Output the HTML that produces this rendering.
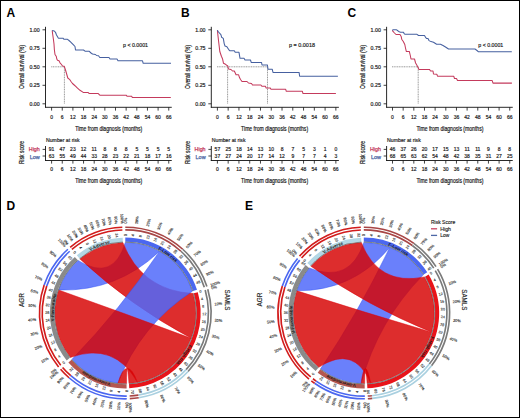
<!DOCTYPE html>
<html><head><meta charset="utf-8"><style>
html,body{margin:0;padding:0;background:#fff;}
body{width:520px;height:418px;overflow:hidden;position:relative;}
svg{position:absolute;left:0;top:0;font-family:"Liberation Sans", sans-serif;}
.frame{position:absolute;left:0;top:0;width:518px;height:416px;border:1px solid #000;}
</style></head><body>
<svg width="520" height="418" viewBox="0 0 520 418">
<text x="6.6" y="16.8" font-size="12" text-anchor="start" fill="#000" font-weight="bold" >A</text>
<line x1="45.5" y1="26.8" x2="45.5" y2="107.6" stroke="#111" stroke-width="0.9"/>
<line x1="45.05" y1="107.3" x2="171.75" y2="107.3" stroke="#111" stroke-width="0.9"/>
<line x1="42.5" y1="29.8" x2="45.5" y2="29.8" stroke="#111" stroke-width="0.8"/>
<text x="39.7" y="31.6" font-size="5" text-anchor="end" fill="#1a1a1a" font-weight="normal" stroke="#1a1a1a" stroke-width="0.18" textLength="10.2" lengthAdjust="spacingAndGlyphs" >1.00</text>
<line x1="42.5" y1="48.3" x2="45.5" y2="48.3" stroke="#111" stroke-width="0.8"/>
<text x="39.7" y="50.1" font-size="5" text-anchor="end" fill="#1a1a1a" font-weight="normal" stroke="#1a1a1a" stroke-width="0.18" textLength="10.2" lengthAdjust="spacingAndGlyphs" >0.75</text>
<line x1="42.5" y1="66.8" x2="45.5" y2="66.8" stroke="#111" stroke-width="0.8"/>
<text x="39.7" y="68.6" font-size="5" text-anchor="end" fill="#1a1a1a" font-weight="normal" stroke="#1a1a1a" stroke-width="0.18" textLength="10.2" lengthAdjust="spacingAndGlyphs" >0.50</text>
<line x1="42.5" y1="85.3" x2="45.5" y2="85.3" stroke="#111" stroke-width="0.8"/>
<text x="39.7" y="87.1" font-size="5" text-anchor="end" fill="#1a1a1a" font-weight="normal" stroke="#1a1a1a" stroke-width="0.18" textLength="10.2" lengthAdjust="spacingAndGlyphs" >0.25</text>
<line x1="42.5" y1="103.8" x2="45.5" y2="103.8" stroke="#111" stroke-width="0.8"/>
<text x="39.7" y="105.6" font-size="5" text-anchor="end" fill="#1a1a1a" font-weight="normal" stroke="#1a1a1a" stroke-width="0.18" textLength="10.2" lengthAdjust="spacingAndGlyphs" >0.00</text>
<line x1="51.6" y1="107.3" x2="51.6" y2="110.6" stroke="#111" stroke-width="0.8"/>
<text x="51.6" y="118.9" font-size="5" text-anchor="middle" fill="#1a1a1a" font-weight="normal" stroke="#1a1a1a" stroke-width="0.18" >0</text>
<line x1="51.6" y1="160.5" x2="51.6" y2="163.6" stroke="#111" stroke-width="0.8"/>
<text x="51.6" y="171.3" font-size="5" text-anchor="middle" fill="#1a1a1a" font-weight="normal" stroke="#1a1a1a" stroke-width="0.18" >0</text>
<text x="51.6" y="151.2" font-size="5" text-anchor="middle" fill="#1a1a1a" font-weight="normal" stroke="#1a1a1a" stroke-width="0.18" >91</text>
<text x="51.6" y="157.8" font-size="5" text-anchor="middle" fill="#1a1a1a" font-weight="normal" stroke="#1a1a1a" stroke-width="0.18" >63</text>
<line x1="62.25" y1="107.3" x2="62.25" y2="110.6" stroke="#111" stroke-width="0.8"/>
<text x="62.25" y="118.9" font-size="5" text-anchor="middle" fill="#1a1a1a" font-weight="normal" stroke="#1a1a1a" stroke-width="0.18" >6</text>
<line x1="62.25" y1="160.5" x2="62.25" y2="163.6" stroke="#111" stroke-width="0.8"/>
<text x="62.25" y="171.3" font-size="5" text-anchor="middle" fill="#1a1a1a" font-weight="normal" stroke="#1a1a1a" stroke-width="0.18" >6</text>
<text x="62.25" y="151.2" font-size="5" text-anchor="middle" fill="#1a1a1a" font-weight="normal" stroke="#1a1a1a" stroke-width="0.18" >47</text>
<text x="62.25" y="157.8" font-size="5" text-anchor="middle" fill="#1a1a1a" font-weight="normal" stroke="#1a1a1a" stroke-width="0.18" >55</text>
<line x1="72.9" y1="107.3" x2="72.9" y2="110.6" stroke="#111" stroke-width="0.8"/>
<text x="72.9" y="118.9" font-size="5" text-anchor="middle" fill="#1a1a1a" font-weight="normal" stroke="#1a1a1a" stroke-width="0.18" >12</text>
<line x1="72.9" y1="160.5" x2="72.9" y2="163.6" stroke="#111" stroke-width="0.8"/>
<text x="72.9" y="171.3" font-size="5" text-anchor="middle" fill="#1a1a1a" font-weight="normal" stroke="#1a1a1a" stroke-width="0.18" >12</text>
<text x="72.9" y="151.2" font-size="5" text-anchor="middle" fill="#1a1a1a" font-weight="normal" stroke="#1a1a1a" stroke-width="0.18" >23</text>
<text x="72.9" y="157.8" font-size="5" text-anchor="middle" fill="#1a1a1a" font-weight="normal" stroke="#1a1a1a" stroke-width="0.18" >49</text>
<line x1="83.55" y1="107.3" x2="83.55" y2="110.6" stroke="#111" stroke-width="0.8"/>
<text x="83.55" y="118.9" font-size="5" text-anchor="middle" fill="#1a1a1a" font-weight="normal" stroke="#1a1a1a" stroke-width="0.18" >18</text>
<line x1="83.55" y1="160.5" x2="83.55" y2="163.6" stroke="#111" stroke-width="0.8"/>
<text x="83.55" y="171.3" font-size="5" text-anchor="middle" fill="#1a1a1a" font-weight="normal" stroke="#1a1a1a" stroke-width="0.18" >18</text>
<text x="83.55" y="151.2" font-size="5" text-anchor="middle" fill="#1a1a1a" font-weight="normal" stroke="#1a1a1a" stroke-width="0.18" >12</text>
<text x="83.55" y="157.8" font-size="5" text-anchor="middle" fill="#1a1a1a" font-weight="normal" stroke="#1a1a1a" stroke-width="0.18" >44</text>
<line x1="94.2" y1="107.3" x2="94.2" y2="110.6" stroke="#111" stroke-width="0.8"/>
<text x="94.2" y="118.9" font-size="5" text-anchor="middle" fill="#1a1a1a" font-weight="normal" stroke="#1a1a1a" stroke-width="0.18" >24</text>
<line x1="94.2" y1="160.5" x2="94.2" y2="163.6" stroke="#111" stroke-width="0.8"/>
<text x="94.2" y="171.3" font-size="5" text-anchor="middle" fill="#1a1a1a" font-weight="normal" stroke="#1a1a1a" stroke-width="0.18" >24</text>
<text x="94.2" y="151.2" font-size="5" text-anchor="middle" fill="#1a1a1a" font-weight="normal" stroke="#1a1a1a" stroke-width="0.18" >11</text>
<text x="94.2" y="157.8" font-size="5" text-anchor="middle" fill="#1a1a1a" font-weight="normal" stroke="#1a1a1a" stroke-width="0.18" >33</text>
<line x1="104.85" y1="107.3" x2="104.85" y2="110.6" stroke="#111" stroke-width="0.8"/>
<text x="104.85" y="118.9" font-size="5" text-anchor="middle" fill="#1a1a1a" font-weight="normal" stroke="#1a1a1a" stroke-width="0.18" >30</text>
<line x1="104.85" y1="160.5" x2="104.85" y2="163.6" stroke="#111" stroke-width="0.8"/>
<text x="104.85" y="171.3" font-size="5" text-anchor="middle" fill="#1a1a1a" font-weight="normal" stroke="#1a1a1a" stroke-width="0.18" >30</text>
<text x="104.85" y="151.2" font-size="5" text-anchor="middle" fill="#1a1a1a" font-weight="normal" stroke="#1a1a1a" stroke-width="0.18" >8</text>
<text x="104.85" y="157.8" font-size="5" text-anchor="middle" fill="#1a1a1a" font-weight="normal" stroke="#1a1a1a" stroke-width="0.18" >28</text>
<line x1="115.5" y1="107.3" x2="115.5" y2="110.6" stroke="#111" stroke-width="0.8"/>
<text x="115.5" y="118.9" font-size="5" text-anchor="middle" fill="#1a1a1a" font-weight="normal" stroke="#1a1a1a" stroke-width="0.18" >36</text>
<line x1="115.5" y1="160.5" x2="115.5" y2="163.6" stroke="#111" stroke-width="0.8"/>
<text x="115.5" y="171.3" font-size="5" text-anchor="middle" fill="#1a1a1a" font-weight="normal" stroke="#1a1a1a" stroke-width="0.18" >36</text>
<text x="115.5" y="151.2" font-size="5" text-anchor="middle" fill="#1a1a1a" font-weight="normal" stroke="#1a1a1a" stroke-width="0.18" >8</text>
<text x="115.5" y="157.8" font-size="5" text-anchor="middle" fill="#1a1a1a" font-weight="normal" stroke="#1a1a1a" stroke-width="0.18" >23</text>
<line x1="126.15" y1="107.3" x2="126.15" y2="110.6" stroke="#111" stroke-width="0.8"/>
<text x="126.15" y="118.9" font-size="5" text-anchor="middle" fill="#1a1a1a" font-weight="normal" stroke="#1a1a1a" stroke-width="0.18" >42</text>
<line x1="126.15" y1="160.5" x2="126.15" y2="163.6" stroke="#111" stroke-width="0.8"/>
<text x="126.15" y="171.3" font-size="5" text-anchor="middle" fill="#1a1a1a" font-weight="normal" stroke="#1a1a1a" stroke-width="0.18" >42</text>
<text x="126.15" y="151.2" font-size="5" text-anchor="middle" fill="#1a1a1a" font-weight="normal" stroke="#1a1a1a" stroke-width="0.18" >8</text>
<text x="126.15" y="157.8" font-size="5" text-anchor="middle" fill="#1a1a1a" font-weight="normal" stroke="#1a1a1a" stroke-width="0.18" >22</text>
<line x1="136.8" y1="107.3" x2="136.8" y2="110.6" stroke="#111" stroke-width="0.8"/>
<text x="136.8" y="118.9" font-size="5" text-anchor="middle" fill="#1a1a1a" font-weight="normal" stroke="#1a1a1a" stroke-width="0.18" >48</text>
<line x1="136.8" y1="160.5" x2="136.8" y2="163.6" stroke="#111" stroke-width="0.8"/>
<text x="136.8" y="171.3" font-size="5" text-anchor="middle" fill="#1a1a1a" font-weight="normal" stroke="#1a1a1a" stroke-width="0.18" >48</text>
<text x="136.8" y="151.2" font-size="5" text-anchor="middle" fill="#1a1a1a" font-weight="normal" stroke="#1a1a1a" stroke-width="0.18" >5</text>
<text x="136.8" y="157.8" font-size="5" text-anchor="middle" fill="#1a1a1a" font-weight="normal" stroke="#1a1a1a" stroke-width="0.18" >21</text>
<line x1="147.45" y1="107.3" x2="147.45" y2="110.6" stroke="#111" stroke-width="0.8"/>
<text x="147.45" y="118.9" font-size="5" text-anchor="middle" fill="#1a1a1a" font-weight="normal" stroke="#1a1a1a" stroke-width="0.18" >54</text>
<line x1="147.45" y1="160.5" x2="147.45" y2="163.6" stroke="#111" stroke-width="0.8"/>
<text x="147.45" y="171.3" font-size="5" text-anchor="middle" fill="#1a1a1a" font-weight="normal" stroke="#1a1a1a" stroke-width="0.18" >54</text>
<text x="147.45" y="151.2" font-size="5" text-anchor="middle" fill="#1a1a1a" font-weight="normal" stroke="#1a1a1a" stroke-width="0.18" >5</text>
<text x="147.45" y="157.8" font-size="5" text-anchor="middle" fill="#1a1a1a" font-weight="normal" stroke="#1a1a1a" stroke-width="0.18" >18</text>
<line x1="158.1" y1="107.3" x2="158.1" y2="110.6" stroke="#111" stroke-width="0.8"/>
<text x="158.1" y="118.9" font-size="5" text-anchor="middle" fill="#1a1a1a" font-weight="normal" stroke="#1a1a1a" stroke-width="0.18" >60</text>
<line x1="158.1" y1="160.5" x2="158.1" y2="163.6" stroke="#111" stroke-width="0.8"/>
<text x="158.1" y="171.3" font-size="5" text-anchor="middle" fill="#1a1a1a" font-weight="normal" stroke="#1a1a1a" stroke-width="0.18" >60</text>
<text x="158.1" y="151.2" font-size="5" text-anchor="middle" fill="#1a1a1a" font-weight="normal" stroke="#1a1a1a" stroke-width="0.18" >5</text>
<text x="158.1" y="157.8" font-size="5" text-anchor="middle" fill="#1a1a1a" font-weight="normal" stroke="#1a1a1a" stroke-width="0.18" >17</text>
<line x1="168.75" y1="107.3" x2="168.75" y2="110.6" stroke="#111" stroke-width="0.8"/>
<text x="168.75" y="118.9" font-size="5" text-anchor="middle" fill="#1a1a1a" font-weight="normal" stroke="#1a1a1a" stroke-width="0.18" >66</text>
<line x1="168.75" y1="160.5" x2="168.75" y2="163.6" stroke="#111" stroke-width="0.8"/>
<text x="168.75" y="171.3" font-size="5" text-anchor="middle" fill="#1a1a1a" font-weight="normal" stroke="#1a1a1a" stroke-width="0.18" >66</text>
<text x="168.75" y="151.2" font-size="5" text-anchor="middle" fill="#1a1a1a" font-weight="normal" stroke="#1a1a1a" stroke-width="0.18" >5</text>
<text x="168.75" y="157.8" font-size="5" text-anchor="middle" fill="#1a1a1a" font-weight="normal" stroke="#1a1a1a" stroke-width="0.18" >16</text>
<text x="75.3" y="130.8" font-size="7.4" text-anchor="start" fill="#111" font-weight="normal" stroke="#111" stroke-width="0.2" textLength="67" lengthAdjust="spacingAndGlyphs" >Time from diagnosis (months)</text>
<text x="75.3" y="182.7" font-size="7.4" text-anchor="start" fill="#111" font-weight="normal" stroke="#111" stroke-width="0.2" textLength="67" lengthAdjust="spacingAndGlyphs" >Time from diagnosis (months)</text>
<text transform="translate(24,67) rotate(-90)" x="0" y="0" font-size="7.4" stroke="#111" stroke-width="0.2" text-anchor="middle" fill="#111" textLength="44" lengthAdjust="spacingAndGlyphs">Overall survival (%)</text>
<text x="123" y="47.2" font-size="5.4" text-anchor="start" fill="#222" font-weight="normal" stroke="#222" stroke-width="0.18" textLength="25" lengthAdjust="spacingAndGlyphs" >p &lt; 0.0001</text>
<line x1="51.2" y1="66.8" x2="64.4" y2="66.8" stroke="#999" stroke-width="1" stroke-dasharray="1.1,0.6"/>
<line x1="64.4" y1="66.8" x2="64.4" y2="103.6" stroke="#999" stroke-width="1" stroke-dasharray="1.1,0.6"/>
<polyline points="52.2,30.4 52.5,33 53.5,40 54,44 54.4,50 55,54.5 56.2,56.2 56.8,59 57.5,60.3 59,60.8 60,62.8 61.5,64.5 62.5,66 64.3,66.3 65.5,70 67.8,78 69.5,79.3 71,81.5 72.5,83.5 74.2,85 76,86.6 77.5,88.2 80,90.3 83.2,92.4 88,92.4 89,93.4 98,93.4 99.8,95.2 126.4,95.2 127,96.3 131.7,96.3 132.2,97.4 170.8,97.4" fill="none" stroke="#c43a5c" stroke-width="1.05" stroke-linejoin="round" />
<polyline points="52.2,30.4 54.3,31 55.5,32.3 56.5,35 58,37.6 58.5,38.2 63,38.2 64,39.3 67.5,39.3 69,40.5 71,42.3 73.5,44.8 75,46.5 75.5,50 83.5,50 85,51.2 89,51.2 91,53 92.5,54 95.5,54.5 96.5,55.5 98.5,55.8 99.8,57.5 109,57.5 110,59 117,59 118,60.8 142.5,60.8 143.2,63.3 171,63.3" fill="none" stroke="#4660a0" stroke-width="1.05" stroke-linejoin="round" />
<text x="46" y="142.1" font-size="5.4" text-anchor="start" fill="#222" font-weight="normal" stroke="#222" stroke-width="0.18" textLength="33.7" lengthAdjust="spacingAndGlyphs" >Number at risk</text>
<text transform="translate(23.9,152.5) rotate(-90)" x="0" y="0" font-size="7.4" stroke="#111" stroke-width="0.2" text-anchor="middle" fill="#111" textLength="23" lengthAdjust="spacingAndGlyphs">Risk score</text>
<text x="39.8" y="151.3" font-size="5.6" text-anchor="end" fill="#c43a5c" font-weight="normal" stroke="#c43a5c" stroke-width="0.25" textLength="11" lengthAdjust="spacingAndGlyphs" >High</text>
<text x="39.8" y="158.6" font-size="5.6" text-anchor="end" fill="#4660a0" font-weight="normal" stroke="#4660a0" stroke-width="0.25" textLength="10" lengthAdjust="spacingAndGlyphs" >Low</text>
<line x1="45.5" y1="146" x2="45.5" y2="160.9" stroke="#111" stroke-width="0.9"/>
<line x1="45.05" y1="160.5" x2="171.75" y2="160.5" stroke="#111" stroke-width="0.9"/>
<line x1="42.6" y1="149.4" x2="45.5" y2="149.4" stroke="#111" stroke-width="0.8"/>
<line x1="42.6" y1="156" x2="45.5" y2="156" stroke="#111" stroke-width="0.8"/>
<text x="180.9" y="16.8" font-size="12" text-anchor="start" fill="#000" font-weight="bold" >B</text>
<line x1="211.3" y1="26.8" x2="211.3" y2="107.6" stroke="#111" stroke-width="0.9"/>
<line x1="210.85" y1="107.3" x2="338.87" y2="107.3" stroke="#111" stroke-width="0.9"/>
<line x1="208.3" y1="29.8" x2="211.3" y2="29.8" stroke="#111" stroke-width="0.8"/>
<text x="205.5" y="31.6" font-size="5" text-anchor="end" fill="#1a1a1a" font-weight="normal" stroke="#1a1a1a" stroke-width="0.18" textLength="10.2" lengthAdjust="spacingAndGlyphs" >1.00</text>
<line x1="208.3" y1="48.3" x2="211.3" y2="48.3" stroke="#111" stroke-width="0.8"/>
<text x="205.5" y="50.1" font-size="5" text-anchor="end" fill="#1a1a1a" font-weight="normal" stroke="#1a1a1a" stroke-width="0.18" textLength="10.2" lengthAdjust="spacingAndGlyphs" >0.75</text>
<line x1="208.3" y1="66.8" x2="211.3" y2="66.8" stroke="#111" stroke-width="0.8"/>
<text x="205.5" y="68.6" font-size="5" text-anchor="end" fill="#1a1a1a" font-weight="normal" stroke="#1a1a1a" stroke-width="0.18" textLength="10.2" lengthAdjust="spacingAndGlyphs" >0.50</text>
<line x1="208.3" y1="85.3" x2="211.3" y2="85.3" stroke="#111" stroke-width="0.8"/>
<text x="205.5" y="87.1" font-size="5" text-anchor="end" fill="#1a1a1a" font-weight="normal" stroke="#1a1a1a" stroke-width="0.18" textLength="10.2" lengthAdjust="spacingAndGlyphs" >0.25</text>
<line x1="208.3" y1="103.8" x2="211.3" y2="103.8" stroke="#111" stroke-width="0.8"/>
<text x="205.5" y="105.6" font-size="5" text-anchor="end" fill="#1a1a1a" font-weight="normal" stroke="#1a1a1a" stroke-width="0.18" textLength="10.2" lengthAdjust="spacingAndGlyphs" >0.00</text>
<line x1="217.4" y1="107.3" x2="217.4" y2="110.6" stroke="#111" stroke-width="0.8"/>
<text x="217.4" y="118.9" font-size="5" text-anchor="middle" fill="#1a1a1a" font-weight="normal" stroke="#1a1a1a" stroke-width="0.18" >0</text>
<line x1="217.4" y1="160.5" x2="217.4" y2="163.6" stroke="#111" stroke-width="0.8"/>
<text x="217.4" y="171.3" font-size="5" text-anchor="middle" fill="#1a1a1a" font-weight="normal" stroke="#1a1a1a" stroke-width="0.18" >0</text>
<text x="217.4" y="151.2" font-size="5" text-anchor="middle" fill="#1a1a1a" font-weight="normal" stroke="#1a1a1a" stroke-width="0.18" >57</text>
<text x="217.4" y="157.8" font-size="5" text-anchor="middle" fill="#1a1a1a" font-weight="normal" stroke="#1a1a1a" stroke-width="0.18" >37</text>
<line x1="228.17" y1="107.3" x2="228.17" y2="110.6" stroke="#111" stroke-width="0.8"/>
<text x="228.17" y="118.9" font-size="5" text-anchor="middle" fill="#1a1a1a" font-weight="normal" stroke="#1a1a1a" stroke-width="0.18" >6</text>
<line x1="228.17" y1="160.5" x2="228.17" y2="163.6" stroke="#111" stroke-width="0.8"/>
<text x="228.17" y="171.3" font-size="5" text-anchor="middle" fill="#1a1a1a" font-weight="normal" stroke="#1a1a1a" stroke-width="0.18" >6</text>
<text x="228.17" y="151.2" font-size="5" text-anchor="middle" fill="#1a1a1a" font-weight="normal" stroke="#1a1a1a" stroke-width="0.18" >25</text>
<text x="228.17" y="157.8" font-size="5" text-anchor="middle" fill="#1a1a1a" font-weight="normal" stroke="#1a1a1a" stroke-width="0.18" >27</text>
<line x1="238.94" y1="107.3" x2="238.94" y2="110.6" stroke="#111" stroke-width="0.8"/>
<text x="238.94" y="118.9" font-size="5" text-anchor="middle" fill="#1a1a1a" font-weight="normal" stroke="#1a1a1a" stroke-width="0.18" >12</text>
<line x1="238.94" y1="160.5" x2="238.94" y2="163.6" stroke="#111" stroke-width="0.8"/>
<text x="238.94" y="171.3" font-size="5" text-anchor="middle" fill="#1a1a1a" font-weight="normal" stroke="#1a1a1a" stroke-width="0.18" >12</text>
<text x="238.94" y="151.2" font-size="5" text-anchor="middle" fill="#1a1a1a" font-weight="normal" stroke="#1a1a1a" stroke-width="0.18" >18</text>
<text x="238.94" y="157.8" font-size="5" text-anchor="middle" fill="#1a1a1a" font-weight="normal" stroke="#1a1a1a" stroke-width="0.18" >24</text>
<line x1="249.71" y1="107.3" x2="249.71" y2="110.6" stroke="#111" stroke-width="0.8"/>
<text x="249.71" y="118.9" font-size="5" text-anchor="middle" fill="#1a1a1a" font-weight="normal" stroke="#1a1a1a" stroke-width="0.18" >18</text>
<line x1="249.71" y1="160.5" x2="249.71" y2="163.6" stroke="#111" stroke-width="0.8"/>
<text x="249.71" y="171.3" font-size="5" text-anchor="middle" fill="#1a1a1a" font-weight="normal" stroke="#1a1a1a" stroke-width="0.18" >18</text>
<text x="249.71" y="151.2" font-size="5" text-anchor="middle" fill="#1a1a1a" font-weight="normal" stroke="#1a1a1a" stroke-width="0.18" >14</text>
<text x="249.71" y="157.8" font-size="5" text-anchor="middle" fill="#1a1a1a" font-weight="normal" stroke="#1a1a1a" stroke-width="0.18" >20</text>
<line x1="260.48" y1="107.3" x2="260.48" y2="110.6" stroke="#111" stroke-width="0.8"/>
<text x="260.48" y="118.9" font-size="5" text-anchor="middle" fill="#1a1a1a" font-weight="normal" stroke="#1a1a1a" stroke-width="0.18" >24</text>
<line x1="260.48" y1="160.5" x2="260.48" y2="163.6" stroke="#111" stroke-width="0.8"/>
<text x="260.48" y="171.3" font-size="5" text-anchor="middle" fill="#1a1a1a" font-weight="normal" stroke="#1a1a1a" stroke-width="0.18" >24</text>
<text x="260.48" y="151.2" font-size="5" text-anchor="middle" fill="#1a1a1a" font-weight="normal" stroke="#1a1a1a" stroke-width="0.18" >13</text>
<text x="260.48" y="157.8" font-size="5" text-anchor="middle" fill="#1a1a1a" font-weight="normal" stroke="#1a1a1a" stroke-width="0.18" >17</text>
<line x1="271.25" y1="107.3" x2="271.25" y2="110.6" stroke="#111" stroke-width="0.8"/>
<text x="271.25" y="118.9" font-size="5" text-anchor="middle" fill="#1a1a1a" font-weight="normal" stroke="#1a1a1a" stroke-width="0.18" >30</text>
<line x1="271.25" y1="160.5" x2="271.25" y2="163.6" stroke="#111" stroke-width="0.8"/>
<text x="271.25" y="171.3" font-size="5" text-anchor="middle" fill="#1a1a1a" font-weight="normal" stroke="#1a1a1a" stroke-width="0.18" >30</text>
<text x="271.25" y="151.2" font-size="5" text-anchor="middle" fill="#1a1a1a" font-weight="normal" stroke="#1a1a1a" stroke-width="0.18" >10</text>
<text x="271.25" y="157.8" font-size="5" text-anchor="middle" fill="#1a1a1a" font-weight="normal" stroke="#1a1a1a" stroke-width="0.18" >14</text>
<line x1="282.02" y1="107.3" x2="282.02" y2="110.6" stroke="#111" stroke-width="0.8"/>
<text x="282.02" y="118.9" font-size="5" text-anchor="middle" fill="#1a1a1a" font-weight="normal" stroke="#1a1a1a" stroke-width="0.18" >36</text>
<line x1="282.02" y1="160.5" x2="282.02" y2="163.6" stroke="#111" stroke-width="0.8"/>
<text x="282.02" y="171.3" font-size="5" text-anchor="middle" fill="#1a1a1a" font-weight="normal" stroke="#1a1a1a" stroke-width="0.18" >36</text>
<text x="282.02" y="151.2" font-size="5" text-anchor="middle" fill="#1a1a1a" font-weight="normal" stroke="#1a1a1a" stroke-width="0.18" >8</text>
<text x="282.02" y="157.8" font-size="5" text-anchor="middle" fill="#1a1a1a" font-weight="normal" stroke="#1a1a1a" stroke-width="0.18" >12</text>
<line x1="292.79" y1="107.3" x2="292.79" y2="110.6" stroke="#111" stroke-width="0.8"/>
<text x="292.79" y="118.9" font-size="5" text-anchor="middle" fill="#1a1a1a" font-weight="normal" stroke="#1a1a1a" stroke-width="0.18" >42</text>
<line x1="292.79" y1="160.5" x2="292.79" y2="163.6" stroke="#111" stroke-width="0.8"/>
<text x="292.79" y="171.3" font-size="5" text-anchor="middle" fill="#1a1a1a" font-weight="normal" stroke="#1a1a1a" stroke-width="0.18" >42</text>
<text x="292.79" y="151.2" font-size="5" text-anchor="middle" fill="#1a1a1a" font-weight="normal" stroke="#1a1a1a" stroke-width="0.18" >7</text>
<text x="292.79" y="157.8" font-size="5" text-anchor="middle" fill="#1a1a1a" font-weight="normal" stroke="#1a1a1a" stroke-width="0.18" >9</text>
<line x1="303.56" y1="107.3" x2="303.56" y2="110.6" stroke="#111" stroke-width="0.8"/>
<text x="303.56" y="118.9" font-size="5" text-anchor="middle" fill="#1a1a1a" font-weight="normal" stroke="#1a1a1a" stroke-width="0.18" >48</text>
<line x1="303.56" y1="160.5" x2="303.56" y2="163.6" stroke="#111" stroke-width="0.8"/>
<text x="303.56" y="171.3" font-size="5" text-anchor="middle" fill="#1a1a1a" font-weight="normal" stroke="#1a1a1a" stroke-width="0.18" >48</text>
<text x="303.56" y="151.2" font-size="5" text-anchor="middle" fill="#1a1a1a" font-weight="normal" stroke="#1a1a1a" stroke-width="0.18" >5</text>
<text x="303.56" y="157.8" font-size="5" text-anchor="middle" fill="#1a1a1a" font-weight="normal" stroke="#1a1a1a" stroke-width="0.18" >7</text>
<line x1="314.33" y1="107.3" x2="314.33" y2="110.6" stroke="#111" stroke-width="0.8"/>
<text x="314.33" y="118.9" font-size="5" text-anchor="middle" fill="#1a1a1a" font-weight="normal" stroke="#1a1a1a" stroke-width="0.18" >54</text>
<line x1="314.33" y1="160.5" x2="314.33" y2="163.6" stroke="#111" stroke-width="0.8"/>
<text x="314.33" y="171.3" font-size="5" text-anchor="middle" fill="#1a1a1a" font-weight="normal" stroke="#1a1a1a" stroke-width="0.18" >54</text>
<text x="314.33" y="151.2" font-size="5" text-anchor="middle" fill="#1a1a1a" font-weight="normal" stroke="#1a1a1a" stroke-width="0.18" >3</text>
<text x="314.33" y="157.8" font-size="5" text-anchor="middle" fill="#1a1a1a" font-weight="normal" stroke="#1a1a1a" stroke-width="0.18" >7</text>
<line x1="325.1" y1="107.3" x2="325.1" y2="110.6" stroke="#111" stroke-width="0.8"/>
<text x="325.1" y="118.9" font-size="5" text-anchor="middle" fill="#1a1a1a" font-weight="normal" stroke="#1a1a1a" stroke-width="0.18" >60</text>
<line x1="325.1" y1="160.5" x2="325.1" y2="163.6" stroke="#111" stroke-width="0.8"/>
<text x="325.1" y="171.3" font-size="5" text-anchor="middle" fill="#1a1a1a" font-weight="normal" stroke="#1a1a1a" stroke-width="0.18" >60</text>
<text x="325.1" y="151.2" font-size="5" text-anchor="middle" fill="#1a1a1a" font-weight="normal" stroke="#1a1a1a" stroke-width="0.18" >1</text>
<text x="325.1" y="157.8" font-size="5" text-anchor="middle" fill="#1a1a1a" font-weight="normal" stroke="#1a1a1a" stroke-width="0.18" >4</text>
<line x1="335.87" y1="107.3" x2="335.87" y2="110.6" stroke="#111" stroke-width="0.8"/>
<text x="335.87" y="118.9" font-size="5" text-anchor="middle" fill="#1a1a1a" font-weight="normal" stroke="#1a1a1a" stroke-width="0.18" >66</text>
<line x1="335.87" y1="160.5" x2="335.87" y2="163.6" stroke="#111" stroke-width="0.8"/>
<text x="335.87" y="171.3" font-size="5" text-anchor="middle" fill="#1a1a1a" font-weight="normal" stroke="#1a1a1a" stroke-width="0.18" >66</text>
<text x="335.87" y="151.2" font-size="5" text-anchor="middle" fill="#1a1a1a" font-weight="normal" stroke="#1a1a1a" stroke-width="0.18" >0</text>
<text x="335.87" y="157.8" font-size="5" text-anchor="middle" fill="#1a1a1a" font-weight="normal" stroke="#1a1a1a" stroke-width="0.18" >3</text>
<text x="241.1" y="130.8" font-size="7.4" text-anchor="start" fill="#111" font-weight="normal" stroke="#111" stroke-width="0.2" textLength="67" lengthAdjust="spacingAndGlyphs" >Time from diagnosis (months)</text>
<text x="241.1" y="182.7" font-size="7.4" text-anchor="start" fill="#111" font-weight="normal" stroke="#111" stroke-width="0.2" textLength="67" lengthAdjust="spacingAndGlyphs" >Time from diagnosis (months)</text>
<text transform="translate(189.8,67) rotate(-90)" x="0" y="0" font-size="7.4" stroke="#111" stroke-width="0.2" text-anchor="middle" fill="#111" textLength="44" lengthAdjust="spacingAndGlyphs">Overall survival (%)</text>
<text x="289" y="47.2" font-size="5.4" text-anchor="start" fill="#222" font-weight="normal" stroke="#222" stroke-width="0.18" textLength="26" lengthAdjust="spacingAndGlyphs" >p = 0.0018</text>
<line x1="217" y1="66.8" x2="267.5" y2="66.8" stroke="#999" stroke-width="1" stroke-dasharray="1.1,0.6"/>
<line x1="227.6" y1="66.8" x2="227.6" y2="103.6" stroke="#999" stroke-width="1" stroke-dasharray="1.1,0.6"/>
<line x1="267.5" y1="66.8" x2="267.5" y2="103.6" stroke="#999" stroke-width="1" stroke-dasharray="1.1,0.6"/>
<polyline points="217.4,30.3 218,36 218.8,43 219.8,51.5 221.5,56.5 222.5,58.7 223.5,63.3 225.5,64.3 227.8,66 228.5,69 231,69.5 232.5,71 234.3,71 235.5,73.5 236,74.8 238.6,74.8 239.5,77.6 240.5,79.5 242,81.5 247,81.5 248.5,83 251.5,83.5 252.5,85 260.9,85 262,86.3 265.5,86.3 266,87.9 270.1,87.9 271,89.3 285.7,89.3 286.3,91.3 302.4,91.3 302.9,93.4 335.9,93.4" fill="none" stroke="#c43a5c" stroke-width="1.05" stroke-linejoin="round" />
<polyline points="217.4,30.3 218.5,32 220.9,34.6 221.6,37.2 223.3,38.4 224.2,43.6 225,46 226.9,46.7 228.5,49.3 229.9,50.8 234.3,50.8 235.2,52.3 239,52.3 240,58.3 244,58.3 245,60 250.5,60 251.2,62.4 261.5,62.4 262,64.9 267.4,64.9 268,69.2 272.2,69.2 273,72.4 299.1,72.4 299.6,76.2 337.9,76.2" fill="none" stroke="#4660a0" stroke-width="1.05" stroke-linejoin="round" />
<text x="211.8" y="142.1" font-size="5.4" text-anchor="start" fill="#222" font-weight="normal" stroke="#222" stroke-width="0.18" textLength="33.7" lengthAdjust="spacingAndGlyphs" >Number at risk</text>
<text transform="translate(189.7,152.5) rotate(-90)" x="0" y="0" font-size="7.4" stroke="#111" stroke-width="0.2" text-anchor="middle" fill="#111" textLength="23" lengthAdjust="spacingAndGlyphs">Risk score</text>
<text x="205.6" y="151.3" font-size="5.6" text-anchor="end" fill="#c43a5c" font-weight="normal" stroke="#c43a5c" stroke-width="0.25" textLength="11" lengthAdjust="spacingAndGlyphs" >High</text>
<text x="205.6" y="158.6" font-size="5.6" text-anchor="end" fill="#4660a0" font-weight="normal" stroke="#4660a0" stroke-width="0.25" textLength="10" lengthAdjust="spacingAndGlyphs" >Low</text>
<line x1="211.3" y1="146" x2="211.3" y2="160.9" stroke="#111" stroke-width="0.9"/>
<line x1="210.85" y1="160.5" x2="338.87" y2="160.5" stroke="#111" stroke-width="0.9"/>
<line x1="208.4" y1="149.4" x2="211.3" y2="149.4" stroke="#111" stroke-width="0.8"/>
<line x1="208.4" y1="156" x2="211.3" y2="156" stroke="#111" stroke-width="0.8"/>
<text x="347.6" y="16.8" font-size="12" text-anchor="start" fill="#000" font-weight="bold" >C</text>
<line x1="386.6" y1="26.8" x2="386.6" y2="107.6" stroke="#111" stroke-width="0.9"/>
<line x1="386.15" y1="107.3" x2="512.76" y2="107.3" stroke="#111" stroke-width="0.9"/>
<line x1="383.6" y1="29.8" x2="386.6" y2="29.8" stroke="#111" stroke-width="0.8"/>
<text x="380.8" y="31.6" font-size="5" text-anchor="end" fill="#1a1a1a" font-weight="normal" stroke="#1a1a1a" stroke-width="0.18" textLength="10.2" lengthAdjust="spacingAndGlyphs" >1.00</text>
<line x1="383.6" y1="48.3" x2="386.6" y2="48.3" stroke="#111" stroke-width="0.8"/>
<text x="380.8" y="50.1" font-size="5" text-anchor="end" fill="#1a1a1a" font-weight="normal" stroke="#1a1a1a" stroke-width="0.18" textLength="10.2" lengthAdjust="spacingAndGlyphs" >0.75</text>
<line x1="383.6" y1="66.8" x2="386.6" y2="66.8" stroke="#111" stroke-width="0.8"/>
<text x="380.8" y="68.6" font-size="5" text-anchor="end" fill="#1a1a1a" font-weight="normal" stroke="#1a1a1a" stroke-width="0.18" textLength="10.2" lengthAdjust="spacingAndGlyphs" >0.50</text>
<line x1="383.6" y1="85.3" x2="386.6" y2="85.3" stroke="#111" stroke-width="0.8"/>
<text x="380.8" y="87.1" font-size="5" text-anchor="end" fill="#1a1a1a" font-weight="normal" stroke="#1a1a1a" stroke-width="0.18" textLength="10.2" lengthAdjust="spacingAndGlyphs" >0.25</text>
<line x1="383.6" y1="103.8" x2="386.6" y2="103.8" stroke="#111" stroke-width="0.8"/>
<text x="380.8" y="105.6" font-size="5" text-anchor="end" fill="#1a1a1a" font-weight="normal" stroke="#1a1a1a" stroke-width="0.18" textLength="10.2" lengthAdjust="spacingAndGlyphs" >0.00</text>
<line x1="392.5" y1="107.3" x2="392.5" y2="110.6" stroke="#111" stroke-width="0.8"/>
<text x="392.5" y="118.9" font-size="5" text-anchor="middle" fill="#1a1a1a" font-weight="normal" stroke="#1a1a1a" stroke-width="0.18" >0</text>
<line x1="392.5" y1="160.5" x2="392.5" y2="163.6" stroke="#111" stroke-width="0.8"/>
<text x="392.5" y="171.3" font-size="5" text-anchor="middle" fill="#1a1a1a" font-weight="normal" stroke="#1a1a1a" stroke-width="0.18" >0</text>
<text x="392.5" y="151.2" font-size="5" text-anchor="middle" fill="#1a1a1a" font-weight="normal" stroke="#1a1a1a" stroke-width="0.18" >46</text>
<text x="392.5" y="157.8" font-size="5" text-anchor="middle" fill="#1a1a1a" font-weight="normal" stroke="#1a1a1a" stroke-width="0.18" >68</text>
<line x1="403.16" y1="107.3" x2="403.16" y2="110.6" stroke="#111" stroke-width="0.8"/>
<text x="403.16" y="118.9" font-size="5" text-anchor="middle" fill="#1a1a1a" font-weight="normal" stroke="#1a1a1a" stroke-width="0.18" >6</text>
<line x1="403.16" y1="160.5" x2="403.16" y2="163.6" stroke="#111" stroke-width="0.8"/>
<text x="403.16" y="171.3" font-size="5" text-anchor="middle" fill="#1a1a1a" font-weight="normal" stroke="#1a1a1a" stroke-width="0.18" >6</text>
<text x="403.16" y="151.2" font-size="5" text-anchor="middle" fill="#1a1a1a" font-weight="normal" stroke="#1a1a1a" stroke-width="0.18" >37</text>
<text x="403.16" y="157.8" font-size="5" text-anchor="middle" fill="#1a1a1a" font-weight="normal" stroke="#1a1a1a" stroke-width="0.18" >65</text>
<line x1="413.82" y1="107.3" x2="413.82" y2="110.6" stroke="#111" stroke-width="0.8"/>
<text x="413.82" y="118.9" font-size="5" text-anchor="middle" fill="#1a1a1a" font-weight="normal" stroke="#1a1a1a" stroke-width="0.18" >12</text>
<line x1="413.82" y1="160.5" x2="413.82" y2="163.6" stroke="#111" stroke-width="0.8"/>
<text x="413.82" y="171.3" font-size="5" text-anchor="middle" fill="#1a1a1a" font-weight="normal" stroke="#1a1a1a" stroke-width="0.18" >12</text>
<text x="413.82" y="151.2" font-size="5" text-anchor="middle" fill="#1a1a1a" font-weight="normal" stroke="#1a1a1a" stroke-width="0.18" >26</text>
<text x="413.82" y="157.8" font-size="5" text-anchor="middle" fill="#1a1a1a" font-weight="normal" stroke="#1a1a1a" stroke-width="0.18" >63</text>
<line x1="424.48" y1="107.3" x2="424.48" y2="110.6" stroke="#111" stroke-width="0.8"/>
<text x="424.48" y="118.9" font-size="5" text-anchor="middle" fill="#1a1a1a" font-weight="normal" stroke="#1a1a1a" stroke-width="0.18" >18</text>
<line x1="424.48" y1="160.5" x2="424.48" y2="163.6" stroke="#111" stroke-width="0.8"/>
<text x="424.48" y="171.3" font-size="5" text-anchor="middle" fill="#1a1a1a" font-weight="normal" stroke="#1a1a1a" stroke-width="0.18" >18</text>
<text x="424.48" y="151.2" font-size="5" text-anchor="middle" fill="#1a1a1a" font-weight="normal" stroke="#1a1a1a" stroke-width="0.18" >20</text>
<text x="424.48" y="157.8" font-size="5" text-anchor="middle" fill="#1a1a1a" font-weight="normal" stroke="#1a1a1a" stroke-width="0.18" >62</text>
<line x1="435.14" y1="107.3" x2="435.14" y2="110.6" stroke="#111" stroke-width="0.8"/>
<text x="435.14" y="118.9" font-size="5" text-anchor="middle" fill="#1a1a1a" font-weight="normal" stroke="#1a1a1a" stroke-width="0.18" >24</text>
<line x1="435.14" y1="160.5" x2="435.14" y2="163.6" stroke="#111" stroke-width="0.8"/>
<text x="435.14" y="171.3" font-size="5" text-anchor="middle" fill="#1a1a1a" font-weight="normal" stroke="#1a1a1a" stroke-width="0.18" >24</text>
<text x="435.14" y="151.2" font-size="5" text-anchor="middle" fill="#1a1a1a" font-weight="normal" stroke="#1a1a1a" stroke-width="0.18" >17</text>
<text x="435.14" y="157.8" font-size="5" text-anchor="middle" fill="#1a1a1a" font-weight="normal" stroke="#1a1a1a" stroke-width="0.18" >54</text>
<line x1="445.8" y1="107.3" x2="445.8" y2="110.6" stroke="#111" stroke-width="0.8"/>
<text x="445.8" y="118.9" font-size="5" text-anchor="middle" fill="#1a1a1a" font-weight="normal" stroke="#1a1a1a" stroke-width="0.18" >30</text>
<line x1="445.8" y1="160.5" x2="445.8" y2="163.6" stroke="#111" stroke-width="0.8"/>
<text x="445.8" y="171.3" font-size="5" text-anchor="middle" fill="#1a1a1a" font-weight="normal" stroke="#1a1a1a" stroke-width="0.18" >30</text>
<text x="445.8" y="151.2" font-size="5" text-anchor="middle" fill="#1a1a1a" font-weight="normal" stroke="#1a1a1a" stroke-width="0.18" >15</text>
<text x="445.8" y="157.8" font-size="5" text-anchor="middle" fill="#1a1a1a" font-weight="normal" stroke="#1a1a1a" stroke-width="0.18" >48</text>
<line x1="456.46" y1="107.3" x2="456.46" y2="110.6" stroke="#111" stroke-width="0.8"/>
<text x="456.46" y="118.9" font-size="5" text-anchor="middle" fill="#1a1a1a" font-weight="normal" stroke="#1a1a1a" stroke-width="0.18" >36</text>
<line x1="456.46" y1="160.5" x2="456.46" y2="163.6" stroke="#111" stroke-width="0.8"/>
<text x="456.46" y="171.3" font-size="5" text-anchor="middle" fill="#1a1a1a" font-weight="normal" stroke="#1a1a1a" stroke-width="0.18" >36</text>
<text x="456.46" y="151.2" font-size="5" text-anchor="middle" fill="#1a1a1a" font-weight="normal" stroke="#1a1a1a" stroke-width="0.18" >13</text>
<text x="456.46" y="157.8" font-size="5" text-anchor="middle" fill="#1a1a1a" font-weight="normal" stroke="#1a1a1a" stroke-width="0.18" >42</text>
<line x1="467.12" y1="107.3" x2="467.12" y2="110.6" stroke="#111" stroke-width="0.8"/>
<text x="467.12" y="118.9" font-size="5" text-anchor="middle" fill="#1a1a1a" font-weight="normal" stroke="#1a1a1a" stroke-width="0.18" >42</text>
<line x1="467.12" y1="160.5" x2="467.12" y2="163.6" stroke="#111" stroke-width="0.8"/>
<text x="467.12" y="171.3" font-size="5" text-anchor="middle" fill="#1a1a1a" font-weight="normal" stroke="#1a1a1a" stroke-width="0.18" >42</text>
<text x="467.12" y="151.2" font-size="5" text-anchor="middle" fill="#1a1a1a" font-weight="normal" stroke="#1a1a1a" stroke-width="0.18" >11</text>
<text x="467.12" y="157.8" font-size="5" text-anchor="middle" fill="#1a1a1a" font-weight="normal" stroke="#1a1a1a" stroke-width="0.18" >38</text>
<line x1="477.78" y1="107.3" x2="477.78" y2="110.6" stroke="#111" stroke-width="0.8"/>
<text x="477.78" y="118.9" font-size="5" text-anchor="middle" fill="#1a1a1a" font-weight="normal" stroke="#1a1a1a" stroke-width="0.18" >48</text>
<line x1="477.78" y1="160.5" x2="477.78" y2="163.6" stroke="#111" stroke-width="0.8"/>
<text x="477.78" y="171.3" font-size="5" text-anchor="middle" fill="#1a1a1a" font-weight="normal" stroke="#1a1a1a" stroke-width="0.18" >48</text>
<text x="477.78" y="151.2" font-size="5" text-anchor="middle" fill="#1a1a1a" font-weight="normal" stroke="#1a1a1a" stroke-width="0.18" >11</text>
<text x="477.78" y="157.8" font-size="5" text-anchor="middle" fill="#1a1a1a" font-weight="normal" stroke="#1a1a1a" stroke-width="0.18" >35</text>
<line x1="488.44" y1="107.3" x2="488.44" y2="110.6" stroke="#111" stroke-width="0.8"/>
<text x="488.44" y="118.9" font-size="5" text-anchor="middle" fill="#1a1a1a" font-weight="normal" stroke="#1a1a1a" stroke-width="0.18" >54</text>
<line x1="488.44" y1="160.5" x2="488.44" y2="163.6" stroke="#111" stroke-width="0.8"/>
<text x="488.44" y="171.3" font-size="5" text-anchor="middle" fill="#1a1a1a" font-weight="normal" stroke="#1a1a1a" stroke-width="0.18" >54</text>
<text x="488.44" y="151.2" font-size="5" text-anchor="middle" fill="#1a1a1a" font-weight="normal" stroke="#1a1a1a" stroke-width="0.18" >9</text>
<text x="488.44" y="157.8" font-size="5" text-anchor="middle" fill="#1a1a1a" font-weight="normal" stroke="#1a1a1a" stroke-width="0.18" >31</text>
<line x1="499.1" y1="107.3" x2="499.1" y2="110.6" stroke="#111" stroke-width="0.8"/>
<text x="499.1" y="118.9" font-size="5" text-anchor="middle" fill="#1a1a1a" font-weight="normal" stroke="#1a1a1a" stroke-width="0.18" >60</text>
<line x1="499.1" y1="160.5" x2="499.1" y2="163.6" stroke="#111" stroke-width="0.8"/>
<text x="499.1" y="171.3" font-size="5" text-anchor="middle" fill="#1a1a1a" font-weight="normal" stroke="#1a1a1a" stroke-width="0.18" >60</text>
<text x="499.1" y="151.2" font-size="5" text-anchor="middle" fill="#1a1a1a" font-weight="normal" stroke="#1a1a1a" stroke-width="0.18" >8</text>
<text x="499.1" y="157.8" font-size="5" text-anchor="middle" fill="#1a1a1a" font-weight="normal" stroke="#1a1a1a" stroke-width="0.18" >27</text>
<line x1="509.76" y1="107.3" x2="509.76" y2="110.6" stroke="#111" stroke-width="0.8"/>
<text x="509.76" y="118.9" font-size="5" text-anchor="middle" fill="#1a1a1a" font-weight="normal" stroke="#1a1a1a" stroke-width="0.18" >66</text>
<line x1="509.76" y1="160.5" x2="509.76" y2="163.6" stroke="#111" stroke-width="0.8"/>
<text x="509.76" y="171.3" font-size="5" text-anchor="middle" fill="#1a1a1a" font-weight="normal" stroke="#1a1a1a" stroke-width="0.18" >66</text>
<text x="509.76" y="151.2" font-size="5" text-anchor="middle" fill="#1a1a1a" font-weight="normal" stroke="#1a1a1a" stroke-width="0.18" >8</text>
<text x="509.76" y="157.8" font-size="5" text-anchor="middle" fill="#1a1a1a" font-weight="normal" stroke="#1a1a1a" stroke-width="0.18" >25</text>
<text x="416.4" y="130.8" font-size="7.4" text-anchor="start" fill="#111" font-weight="normal" stroke="#111" stroke-width="0.2" textLength="67" lengthAdjust="spacingAndGlyphs" >Time from diagnosis (months)</text>
<text x="416.4" y="182.7" font-size="7.4" text-anchor="start" fill="#111" font-weight="normal" stroke="#111" stroke-width="0.2" textLength="67" lengthAdjust="spacingAndGlyphs" >Time from diagnosis (months)</text>
<text transform="translate(365.1,67) rotate(-90)" x="0" y="0" font-size="7.4" stroke="#111" stroke-width="0.2" text-anchor="middle" fill="#111" textLength="44" lengthAdjust="spacingAndGlyphs">Overall survival (%)</text>
<text x="478.3" y="47.2" font-size="5.4" text-anchor="start" fill="#222" font-weight="normal" stroke="#222" stroke-width="0.18" textLength="25" lengthAdjust="spacingAndGlyphs" >p &lt; 0.0001</text>
<line x1="392" y1="66.8" x2="418.2" y2="66.8" stroke="#999" stroke-width="1" stroke-dasharray="1.1,0.6"/>
<line x1="418.2" y1="66.8" x2="418.2" y2="103.6" stroke="#999" stroke-width="1" stroke-dasharray="1.1,0.6"/>
<polyline points="392.3,30.2 393,31.4 394.5,33 396,34.5 400,34.5 401.2,36.5 401.7,39.2 403.3,41.5 404.8,44.5 405.5,48 406.3,51.4 409.3,51.4 410.3,55.5 411,59 414.5,59 415.6,63 417.6,66.5 418.9,69.4 429.4,69.4 430.6,71 433,71 433.5,74 436.9,74.3 437.5,76.2 453.7,76.2 454.5,78.5 456.5,78.5 457.5,80.4 492.1,80.4 493,83.1 511.9,83.1" fill="none" stroke="#c43a5c" stroke-width="1.05" stroke-linejoin="round" />
<polyline points="392.3,30.2 393.2,29.8 396.6,29.8 397.5,30.5 399.2,31.8 400.5,32.3 403.5,32.3 404.2,33.7 405,34.3 417,34.3 418.5,35.5 424.5,35.5 425.8,37.7 426.5,38.5 428,38.5 429,40.6 431,41.6 433.5,42.3 436.6,44.3 440.5,44.3 443,45.5 445.5,47 448.5,49 475,49 477,50.5 478.5,51.8 511.8,51.8" fill="none" stroke="#4660a0" stroke-width="1.05" stroke-linejoin="round" />
<text x="387.1" y="142.1" font-size="5.4" text-anchor="start" fill="#222" font-weight="normal" stroke="#222" stroke-width="0.18" textLength="33.7" lengthAdjust="spacingAndGlyphs" >Number at risk</text>
<text transform="translate(365,152.5) rotate(-90)" x="0" y="0" font-size="7.4" stroke="#111" stroke-width="0.2" text-anchor="middle" fill="#111" textLength="23" lengthAdjust="spacingAndGlyphs">Risk score</text>
<text x="380.9" y="151.3" font-size="5.6" text-anchor="end" fill="#c43a5c" font-weight="normal" stroke="#c43a5c" stroke-width="0.25" textLength="11" lengthAdjust="spacingAndGlyphs" >High</text>
<text x="380.9" y="158.6" font-size="5.6" text-anchor="end" fill="#4660a0" font-weight="normal" stroke="#4660a0" stroke-width="0.25" textLength="10" lengthAdjust="spacingAndGlyphs" >Low</text>
<line x1="386.6" y1="146" x2="386.6" y2="160.9" stroke="#111" stroke-width="0.9"/>
<line x1="386.15" y1="160.5" x2="512.76" y2="160.5" stroke="#111" stroke-width="0.9"/>
<line x1="383.7" y1="149.4" x2="386.6" y2="149.4" stroke="#111" stroke-width="0.8"/>
<line x1="383.7" y1="156" x2="386.6" y2="156" stroke="#111" stroke-width="0.8"/>
<path d="M58.55,290.01 A70.6,70.6 0 0 1 78.06,260.53 Q113.49,282.23 125.3,242.4 A70.6,70.6 0 0 1 159.53,251.25 Q117.17,291.82 58.55,290.01 Z" fill="rgb(80,106,250)" fill-opacity="0.85" stroke="#3050f5" stroke-opacity="0.8" stroke-width="0.6"/>
<path d="M79.92,258.92 A70.6,70.6 0 0 1 122.84,242.44 Q141.65,290.5 193.17,293.54 A70.6,70.6 0 0 1 191.21,338.3 Q130.43,305.8 79.92,258.92 Z" fill="rgb(214,2,2)" fill-opacity="0.83" stroke="#e00008" stroke-opacity="0.8" stroke-width="0.6"/>
<path d="M117.92,383.21 A70.6,70.6 0 0 1 72.02,359.32 Q120.54,309.14 159.53,251.25 A70.6,70.6 0 0 1 192.44,291.18 Q140.24,325.1 117.92,383.21 Z" fill="rgb(80,106,250)" fill-opacity="0.85" stroke="#3050f5" stroke-opacity="0.8" stroke-width="0.6"/>
<path d="M70.43,357.43 A70.6,70.6 0 0 1 58.55,290.01 Q125.09,313.58 191.21,338.3 A70.6,70.6 0 0 1 137.56,382.53 Q114.65,341.49 70.43,357.43 Z" fill="rgb(214,2,2)" fill-opacity="0.83" stroke="#e00008" stroke-opacity="0.8" stroke-width="0.6"/>
<path d="M126.53,383.59 A70.6,70.6 0 0 1 117.92,383.21 Q126.72,353.52 137.56,382.53 A70.6,70.6 0 0 1 128.99,383.5 Q126.73,353.92 126.53,383.59 Z" fill="rgb(214,2,2)" fill-opacity="0.83" stroke="#e00008" stroke-opacity="0.8" stroke-width="0.6"/>
<path d="M125.3,237.6 A75.4,75.4 0 0 1 197.01,289.7 L193.02,291 A71.2,71.2 0 0 0 125.3,241.8 Z" fill="#4b67f0"/>
<path d="M125.3,242 A71,71 0 0 1 192.83,291.06" fill="none" stroke="#707878" stroke-width="0.9"/>
<path d="M197.78,292.22 A75.4,75.4 0 0 1 129.25,388.3 L129.03,384.1 A71.2,71.2 0 0 0 193.74,293.37 Z" fill="#e8141a"/>
<path d="M193.55,293.43 A71,71 0 0 1 129.02,383.9" fill="none" stroke="#707878" stroke-width="0.9"/>
<path d="M126.62,388.39 A75.4,75.4 0 0 1 68.39,362.47 L71.56,359.71 A71.2,71.2 0 0 0 126.54,384.19 Z" fill="#b5574f"/>
<path d="M126.54,383.99 A71,71 0 0 1 71.72,359.58" fill="none" stroke="#707878" stroke-width="0.9"/>
<path d="M66.7,360.45 A75.4,75.4 0 0 1 74.85,256.97 L77.66,260.09 A71.2,71.2 0 0 0 69.97,357.81 Z" fill="#8a8a8a"/>
<path d="M70.12,357.68 A71,71 0 0 1 77.79,260.24" fill="none" stroke="#707878" stroke-width="0.9"/>
<path d="M76.83,255.24 A75.4,75.4 0 0 1 122.67,237.65 L122.82,241.84 A71.2,71.2 0 0 0 79.53,258.46 Z" fill="#b3d7e5"/>
<path d="M79.66,258.61 A71,71 0 0 1 122.82,242.04" fill="none" stroke="#707878" stroke-width="0.9"/>
<path d="M125.3,229.9 A83.1,83.1 0 0 1 180.9,251.24" fill="none" stroke="#a84545" stroke-width="1.65"/>
<path d="M125.3,227.2 A85.8,85.8 0 0 1 182.71,249.24" fill="none" stroke="#a84545" stroke-width="1.65"/>
<path d="M180.9,251.24 A83.1,83.1 0 0 1 204.33,287.32" fill="none" stroke="#7a7a7a" stroke-width="1.65"/>
<path d="M182.71,249.24 A85.8,85.8 0 0 1 206.9,286.49" fill="none" stroke="#7a7a7a" stroke-width="1.65"/>
<path d="M205.18,290.09 A83.1,83.1 0 0 1 186.08,369.67" fill="none" stroke="#7a7a7a" stroke-width="1.65"/>
<path d="M207.78,289.35 A85.8,85.8 0 0 1 188.05,371.52" fill="none" stroke="#7a7a7a" stroke-width="1.65"/>
<path d="M186.08,369.67 A83.1,83.1 0 0 1 138.3,395.08" fill="none" stroke="#a9d0e0" stroke-width="1.65"/>
<path d="M188.05,371.52 A85.8,85.8 0 0 1 138.72,397.74" fill="none" stroke="#a9d0e0" stroke-width="1.65"/>
<path d="M138.3,395.08 A83.1,83.1 0 0 1 129.65,395.99" fill="none" stroke="#a84545" stroke-width="1.65"/>
<path d="M138.72,397.74 A85.8,85.8 0 0 1 129.79,398.68" fill="none" stroke="#a84545" stroke-width="1.65"/>
<path d="M126.75,396.09 A83.1,83.1 0 0 1 70.78,375.72" fill="none" stroke="#4b67f0" stroke-width="1.65"/>
<path d="M126.8,398.79 A85.8,85.8 0 0 1 69.01,377.75" fill="none" stroke="#4b67f0" stroke-width="1.65"/>
<path d="M70.78,375.72 A83.1,83.1 0 0 1 62.58,367.52" fill="none" stroke="#d21c1c" stroke-width="1.65"/>
<path d="M69.01,377.75 A85.8,85.8 0 0 1 60.55,369.29" fill="none" stroke="#d21c1c" stroke-width="1.65"/>
<path d="M60.72,365.3 A83.1,83.1 0 0 1 46.73,285.95" fill="none" stroke="#d21c1c" stroke-width="1.65"/>
<path d="M58.62,367 A85.8,85.8 0 0 1 44.17,285.07" fill="none" stroke="#d21c1c" stroke-width="1.65"/>
<path d="M46.73,285.95 A83.1,83.1 0 0 1 69.7,251.24" fill="none" stroke="#4b67f0" stroke-width="1.65"/>
<path d="M44.17,285.07 A85.8,85.8 0 0 1 67.89,249.24" fill="none" stroke="#4b67f0" stroke-width="1.65"/>
<path d="M71.88,249.34 A83.1,83.1 0 0 1 122.4,229.95" fill="none" stroke="#d21c1c" stroke-width="1.65"/>
<path d="M70.15,247.27 A85.8,85.8 0 0 1 122.31,227.25" fill="none" stroke="#d21c1c" stroke-width="1.65"/>
<path id="lp125_FL" d="M96.26,247.77 A71.4,71.4 0 0 1 196.31,320.46" fill="none"/>
<text font-size="4.4" font-weight="bold" fill="#1a1a1a"><textPath href="#lp125_FL" startOffset="50%" text-anchor="middle">F-Low risk</textPath></text>
<path id="lp125_FH" d="M190.27,283.39 A71.4,71.4 0 0 1 118.46,384.07" fill="none"/>
<text font-size="4.4" font-weight="bold" fill="#1a1a1a"><textPath href="#lp125_FH" startOffset="50%" text-anchor="middle">F-High risk</textPath></text>
<path id="lp125_VI" d="M167.27,370.76 A71.4,71.4 0 0 1 54.29,320.46" fill="none"/>
<text font-size="4.4" font-weight="bold" fill="#1a1a1a"><textPath href="#lp125_VI" startOffset="50%" text-anchor="middle">V-Intermediate</textPath></text>
<path id="lp125_VF" d="M84.86,371.84 A71.4,71.4 0 0 1 94.56,248.56" fill="none"/>
<text font-size="4.4" font-weight="bold" fill="#1a1a1a"><textPath href="#lp125_VF" startOffset="50%" text-anchor="middle">V-Favourable</textPath></text>
<path id="lp125_VA" d="M54.78,301.83 A71.4,71.4 0 0 1 170.23,257.51" fill="none"/>
<text font-size="4.4" font-weight="bold" fill="#1a1a1a"><textPath href="#lp125_VA" startOffset="50%" text-anchor="middle">V-Adverse</textPath></text>
<text transform="translate(125.3,234.4) rotate(-90)" font-size="3.7" fill="#333" stroke="#333" stroke-width="0.12" text-anchor="start" dy="1.2" x="-1.5">0</text>
<text transform="translate(132.97,234.78) rotate(-84.4)" font-size="3.7" fill="#333" stroke="#333" stroke-width="0.12" text-anchor="start" dy="1.2" x="-1.5">4</text>
<text transform="translate(140.57,235.9) rotate(-78.8)" font-size="3.7" fill="#333" stroke="#333" stroke-width="0.12" text-anchor="start" dy="1.2" x="-1.5">8</text>
<text transform="translate(148.02,237.75) rotate(-73.2)" font-size="3.7" fill="#333" stroke="#333" stroke-width="0.12" text-anchor="start" dy="1.2" x="-1.5">12</text>
<text transform="translate(155.25,240.33) rotate(-67.6)" font-size="3.7" fill="#333" stroke="#333" stroke-width="0.12" text-anchor="start" dy="1.2" x="-1.5">16</text>
<text transform="translate(162.2,243.6) rotate(-62)" font-size="3.7" fill="#333" stroke="#333" stroke-width="0.12" text-anchor="start" dy="1.2" x="-1.5">20</text>
<text transform="translate(168.8,247.53) rotate(-56.4)" font-size="3.7" fill="#333" stroke="#333" stroke-width="0.12" text-anchor="start" dy="1.2" x="-1.5">24</text>
<text transform="translate(174.98,252.09) rotate(-50.8)" font-size="3.7" fill="#333" stroke="#333" stroke-width="0.12" text-anchor="start" dy="1.2" x="-1.5">28</text>
<text transform="translate(180.68,257.23) rotate(-45.2)" font-size="3.7" fill="#333" stroke="#333" stroke-width="0.12" text-anchor="start" dy="1.2" x="-1.5">32</text>
<text transform="translate(185.86,262.9) rotate(-39.6)" font-size="3.7" fill="#333" stroke="#333" stroke-width="0.12" text-anchor="start" dy="1.2" x="-1.5">36</text>
<text transform="translate(190.46,269.05) rotate(-34)" font-size="3.7" fill="#333" stroke="#333" stroke-width="0.12" text-anchor="start" dy="1.2" x="-1.5">40</text>
<text transform="translate(194.44,275.62) rotate(-28.4)" font-size="3.7" fill="#333" stroke="#333" stroke-width="0.12" text-anchor="start" dy="1.2" x="-1.5">44</text>
<text transform="translate(197.76,282.54) rotate(-22.8)" font-size="3.7" fill="#333" stroke="#333" stroke-width="0.12" text-anchor="start" dy="1.2" x="-1.5">48</text>
<text transform="translate(125.3,223.5) rotate(-90)" font-size="3.9" fill="#333" stroke="#333" stroke-width="0.12" text-anchor="start" dy="1.3">0%</text>
<text transform="translate(136.52,224.21) rotate(-82.8)" font-size="3.9" fill="#333" stroke="#333" stroke-width="0.12" text-anchor="start" dy="1.3">10%</text>
<text transform="translate(147.56,226.31) rotate(-75.6)" font-size="3.9" fill="#333" stroke="#333" stroke-width="0.12" text-anchor="start" dy="1.3">20%</text>
<text transform="translate(158.25,229.79) rotate(-68.4)" font-size="3.9" fill="#333" stroke="#333" stroke-width="0.12" text-anchor="start" dy="1.3">30%</text>
<text transform="translate(168.42,234.57) rotate(-61.2)" font-size="3.9" fill="#333" stroke="#333" stroke-width="0.12" text-anchor="start" dy="1.3">40%</text>
<text transform="translate(177.91,240.59) rotate(-54)" font-size="3.9" fill="#333" stroke="#333" stroke-width="0.12" text-anchor="start" dy="1.3">50%</text>
<text transform="translate(186.57,247.76) rotate(-46.8)" font-size="3.9" fill="#333" stroke="#333" stroke-width="0.12" text-anchor="start" dy="1.3">60%</text>
<text transform="translate(194.26,255.95) rotate(-39.6)" font-size="3.9" fill="#333" stroke="#333" stroke-width="0.12" text-anchor="start" dy="1.3">70%</text>
<text transform="translate(200.87,265.04) rotate(-32.4)" font-size="3.9" fill="#333" stroke="#333" stroke-width="0.12" text-anchor="start" dy="1.3">80%</text>
<text transform="translate(206.28,274.89) rotate(-25.2)" font-size="3.9" fill="#333" stroke="#333" stroke-width="0.12" text-anchor="start" dy="1.3">90%</text>
<text transform="translate(210.42,285.34) rotate(-18)" font-size="3.9" fill="#333" stroke="#333" stroke-width="0.12" text-anchor="start" dy="1.3">100%</text>
<text transform="translate(200.86,291.33) rotate(-16)" font-size="3.7" fill="#333" stroke="#333" stroke-width="0.12" text-anchor="start" dy="1.2" x="-1.5">0</text>
<text transform="translate(202.61,298.81) rotate(-10.4)" font-size="3.7" fill="#333" stroke="#333" stroke-width="0.12" text-anchor="start" dy="1.2" x="-1.5">4</text>
<text transform="translate(203.62,306.42) rotate(-4.8)" font-size="3.7" fill="#333" stroke="#333" stroke-width="0.12" text-anchor="start" dy="1.2" x="-1.5">8</text>
<text transform="translate(203.89,314.1) rotate(0.8)" font-size="3.7" fill="#333" stroke="#333" stroke-width="0.12" text-anchor="start" dy="1.2" x="-1.5">12</text>
<text transform="translate(203.41,321.76) rotate(6.4)" font-size="3.7" fill="#333" stroke="#333" stroke-width="0.12" text-anchor="start" dy="1.2" x="-1.5">16</text>
<text transform="translate(202.18,329.34) rotate(12)" font-size="3.7" fill="#333" stroke="#333" stroke-width="0.12" text-anchor="start" dy="1.2" x="-1.5">20</text>
<text transform="translate(200.22,336.77) rotate(17.6)" font-size="3.7" fill="#333" stroke="#333" stroke-width="0.12" text-anchor="start" dy="1.2" x="-1.5">24</text>
<text transform="translate(197.54,343.96) rotate(23.2)" font-size="3.7" fill="#333" stroke="#333" stroke-width="0.12" text-anchor="start" dy="1.2" x="-1.5">28</text>
<text transform="translate(194.18,350.87) rotate(28.8)" font-size="3.7" fill="#333" stroke="#333" stroke-width="0.12" text-anchor="start" dy="1.2" x="-1.5">32</text>
<text transform="translate(190.15,357.41) rotate(34.4)" font-size="3.7" fill="#333" stroke="#333" stroke-width="0.12" text-anchor="start" dy="1.2" x="-1.5">36</text>
<text transform="translate(185.51,363.52) rotate(40)" font-size="3.7" fill="#333" stroke="#333" stroke-width="0.12" text-anchor="start" dy="1.2" x="-1.5">40</text>
<text transform="translate(180.29,369.16) rotate(45.6)" font-size="3.7" fill="#333" stroke="#333" stroke-width="0.12" text-anchor="start" dy="1.2" x="-1.5">44</text>
<text transform="translate(174.55,374.26) rotate(51.2)" font-size="3.7" fill="#333" stroke="#333" stroke-width="0.12" text-anchor="start" dy="1.2" x="-1.5">48</text>
<text transform="translate(168.34,378.77) rotate(56.8)" font-size="3.7" fill="#333" stroke="#333" stroke-width="0.12" text-anchor="start" dy="1.2" x="-1.5">52</text>
<text transform="translate(161.72,382.66) rotate(62.4)" font-size="3.7" fill="#333" stroke="#333" stroke-width="0.12" text-anchor="start" dy="1.2" x="-1.5">56</text>
<text transform="translate(154.74,385.88) rotate(68)" font-size="3.7" fill="#333" stroke="#333" stroke-width="0.12" text-anchor="start" dy="1.2" x="-1.5">60</text>
<text transform="translate(147.49,388.4) rotate(73.6)" font-size="3.7" fill="#333" stroke="#333" stroke-width="0.12" text-anchor="start" dy="1.2" x="-1.5">64</text>
<text transform="translate(140.03,390.21) rotate(79.2)" font-size="3.7" fill="#333" stroke="#333" stroke-width="0.12" text-anchor="start" dy="1.2" x="-1.5">68</text>
<text transform="translate(132.42,391.28) rotate(84.8)" font-size="3.7" fill="#333" stroke="#333" stroke-width="0.12" text-anchor="start" dy="1.2" x="-1.5">72</text>
<text transform="translate(211.33,288.33) rotate(-16)" font-size="3.9" fill="#333" stroke="#333" stroke-width="0.12" text-anchor="start" dy="1.3">0%</text>
<text transform="translate(214.36,304.11) rotate(-5.7)" font-size="3.9" fill="#333" stroke="#333" stroke-width="0.12" text-anchor="start" dy="1.3">10%</text>
<text transform="translate(214.51,320.18) rotate(4.6)" font-size="3.9" fill="#333" stroke="#333" stroke-width="0.12" text-anchor="start" dy="1.3">20%</text>
<text transform="translate(211.79,336.01) rotate(14.9)" font-size="3.9" fill="#333" stroke="#333" stroke-width="0.12" text-anchor="start" dy="1.3">30%</text>
<text transform="translate(206.28,351.11) rotate(25.2)" font-size="3.9" fill="#333" stroke="#333" stroke-width="0.12" text-anchor="start" dy="1.3">40%</text>
<text transform="translate(198.16,364.97) rotate(35.5)" font-size="3.9" fill="#333" stroke="#333" stroke-width="0.12" text-anchor="start" dy="1.3">50%</text>
<text transform="translate(187.7,377.16) rotate(45.8)" font-size="3.9" fill="#333" stroke="#333" stroke-width="0.12" text-anchor="start" dy="1.3">60%</text>
<text transform="translate(175.22,387.29) rotate(56.1)" font-size="3.9" fill="#333" stroke="#333" stroke-width="0.12" text-anchor="start" dy="1.3">70%</text>
<text transform="translate(161.13,395.01) rotate(66.4)" font-size="3.9" fill="#333" stroke="#333" stroke-width="0.12" text-anchor="start" dy="1.3">80%</text>
<text transform="translate(145.89,400.1) rotate(76.7)" font-size="3.9" fill="#333" stroke="#333" stroke-width="0.12" text-anchor="start" dy="1.3">90%</text>
<text transform="translate(129.98,402.38) rotate(87)" font-size="3.9" fill="#333" stroke="#333" stroke-width="0.12" text-anchor="start" dy="1.3">100%</text>
<text transform="translate(126.67,391.59) rotate(89)" font-size="3.7" fill="#333" stroke="#333" stroke-width="0.12" text-anchor="start" dy="1.2" x="-1.5">0</text>
<text transform="translate(119,391.35) rotate(274.6)" font-size="3.7" fill="#333" stroke="#333" stroke-width="0.12" text-anchor="start" dy="1.2" x="-1.5">4</text>
<text transform="translate(111.38,390.36) rotate(280.2)" font-size="3.7" fill="#333" stroke="#333" stroke-width="0.12" text-anchor="start" dy="1.2" x="-1.5">8</text>
<text transform="translate(103.9,388.63) rotate(285.8)" font-size="3.7" fill="#333" stroke="#333" stroke-width="0.12" text-anchor="start" dy="1.2" x="-1.5">12</text>
<text transform="translate(96.62,386.18) rotate(291.4)" font-size="3.7" fill="#333" stroke="#333" stroke-width="0.12" text-anchor="start" dy="1.2" x="-1.5">16</text>
<text transform="translate(89.62,383.03) rotate(297)" font-size="3.7" fill="#333" stroke="#333" stroke-width="0.12" text-anchor="start" dy="1.2" x="-1.5">20</text>
<text transform="translate(82.95,379.22) rotate(302.6)" font-size="3.7" fill="#333" stroke="#333" stroke-width="0.12" text-anchor="start" dy="1.2" x="-1.5">24</text>
<text transform="translate(76.69,374.77) rotate(308.2)" font-size="3.7" fill="#333" stroke="#333" stroke-width="0.12" text-anchor="start" dy="1.2" x="-1.5">28</text>
<text transform="translate(70.9,369.73) rotate(313.8)" font-size="3.7" fill="#333" stroke="#333" stroke-width="0.12" text-anchor="start" dy="1.2" x="-1.5">32</text>
<text transform="translate(126.86,402.49) rotate(89)" font-size="3.9" fill="#333" stroke="#333" stroke-width="0.12" text-anchor="start" dy="1.3">0%</text>
<text transform="translate(119.06,402.28) rotate(274)" font-size="3.9" fill="#333" stroke="#333" stroke-width="0.12" text-anchor="end" dy="1.3">10%</text>
<text transform="translate(111.3,401.4) rotate(279)" font-size="3.9" fill="#333" stroke="#333" stroke-width="0.12" text-anchor="end" dy="1.3">20%</text>
<text transform="translate(103.65,399.84) rotate(284)" font-size="3.9" fill="#333" stroke="#333" stroke-width="0.12" text-anchor="end" dy="1.3">30%</text>
<text transform="translate(96.16,397.62) rotate(289)" font-size="3.9" fill="#333" stroke="#333" stroke-width="0.12" text-anchor="end" dy="1.3">40%</text>
<text transform="translate(88.9,394.76) rotate(294)" font-size="3.9" fill="#333" stroke="#333" stroke-width="0.12" text-anchor="end" dy="1.3">50%</text>
<text transform="translate(81.91,391.28) rotate(299)" font-size="3.9" fill="#333" stroke="#333" stroke-width="0.12" text-anchor="end" dy="1.3">60%</text>
<text transform="translate(75.25,387.2) rotate(304)" font-size="3.9" fill="#333" stroke="#333" stroke-width="0.12" text-anchor="end" dy="1.3">70%</text>
<text transform="translate(68.98,382.55) rotate(309)" font-size="3.9" fill="#333" stroke="#333" stroke-width="0.12" text-anchor="end" dy="1.3">80%</text>
<text transform="translate(63.13,377.38) rotate(314)" font-size="3.9" fill="#333" stroke="#333" stroke-width="0.12" text-anchor="end" dy="1.3">90%</text>
<text transform="translate(57.75,371.72) rotate(319)" font-size="3.9" fill="#333" stroke="#333" stroke-width="0.12" text-anchor="end" dy="1.3">100%</text>
<text transform="translate(64.22,362.46) rotate(321)" font-size="3.7" fill="#333" stroke="#333" stroke-width="0.12" text-anchor="start" dy="1.2" x="-1.5">0</text>
<text transform="translate(59.68,356.27) rotate(326.6)" font-size="3.7" fill="#333" stroke="#333" stroke-width="0.12" text-anchor="start" dy="1.2" x="-1.5">4</text>
<text transform="translate(55.77,349.66) rotate(332.2)" font-size="3.7" fill="#333" stroke="#333" stroke-width="0.12" text-anchor="start" dy="1.2" x="-1.5">8</text>
<text transform="translate(52.53,342.7) rotate(337.8)" font-size="3.7" fill="#333" stroke="#333" stroke-width="0.12" text-anchor="start" dy="1.2" x="-1.5">12</text>
<text transform="translate(49.98,335.46) rotate(343.4)" font-size="3.7" fill="#333" stroke="#333" stroke-width="0.12" text-anchor="start" dy="1.2" x="-1.5">16</text>
<text transform="translate(48.14,328) rotate(349)" font-size="3.7" fill="#333" stroke="#333" stroke-width="0.12" text-anchor="start" dy="1.2" x="-1.5">20</text>
<text transform="translate(47.05,320.4) rotate(354.6)" font-size="3.7" fill="#333" stroke="#333" stroke-width="0.12" text-anchor="start" dy="1.2" x="-1.5">24</text>
<text transform="translate(46.7,312.73) rotate(360.2)" font-size="3.7" fill="#333" stroke="#333" stroke-width="0.12" text-anchor="start" dy="1.2" x="-1.5">28</text>
<text transform="translate(47.1,305.06) rotate(365.8)" font-size="3.7" fill="#333" stroke="#333" stroke-width="0.12" text-anchor="start" dy="1.2" x="-1.5">32</text>
<text transform="translate(48.25,297.46) rotate(371.4)" font-size="3.7" fill="#333" stroke="#333" stroke-width="0.12" text-anchor="start" dy="1.2" x="-1.5">36</text>
<text transform="translate(50.13,290.02) rotate(377)" font-size="3.7" fill="#333" stroke="#333" stroke-width="0.12" text-anchor="start" dy="1.2" x="-1.5">40</text>
<text transform="translate(52.74,282.79) rotate(382.6)" font-size="3.7" fill="#333" stroke="#333" stroke-width="0.12" text-anchor="start" dy="1.2" x="-1.5">44</text>
<text transform="translate(56.03,275.86) rotate(388.2)" font-size="3.7" fill="#333" stroke="#333" stroke-width="0.12" text-anchor="start" dy="1.2" x="-1.5">48</text>
<text transform="translate(59.98,269.28) rotate(393.8)" font-size="3.7" fill="#333" stroke="#333" stroke-width="0.12" text-anchor="start" dy="1.2" x="-1.5">52</text>
<text transform="translate(64.56,263.11) rotate(399.4)" font-size="3.7" fill="#333" stroke="#333" stroke-width="0.12" text-anchor="start" dy="1.2" x="-1.5">56</text>
<text transform="translate(69.72,257.42) rotate(405)" font-size="3.7" fill="#333" stroke="#333" stroke-width="0.12" text-anchor="start" dy="1.2" x="-1.5">60</text>
<text transform="translate(55.75,369.32) rotate(321)" font-size="3.9" fill="#333" stroke="#333" stroke-width="0.12" text-anchor="end" dy="1.3">0%</text>
<text transform="translate(48.03,358.16) rotate(329.7)" font-size="3.9" fill="#333" stroke="#333" stroke-width="0.12" text-anchor="end" dy="1.3">10%</text>
<text transform="translate(42.09,345.95) rotate(338.4)" font-size="3.9" fill="#333" stroke="#333" stroke-width="0.12" text-anchor="end" dy="1.3">20%</text>
<text transform="translate(38.06,332.98) rotate(347.1)" font-size="3.9" fill="#333" stroke="#333" stroke-width="0.12" text-anchor="end" dy="1.3">30%</text>
<text transform="translate(36.04,319.55) rotate(355.8)" font-size="3.9" fill="#333" stroke="#333" stroke-width="0.12" text-anchor="end" dy="1.3">40%</text>
<text transform="translate(36.08,305.98) rotate(364.5)" font-size="3.9" fill="#333" stroke="#333" stroke-width="0.12" text-anchor="end" dy="1.3">50%</text>
<text transform="translate(38.16,292.56) rotate(373.2)" font-size="3.9" fill="#333" stroke="#333" stroke-width="0.12" text-anchor="end" dy="1.3">60%</text>
<text transform="translate(42.26,279.62) rotate(381.9)" font-size="3.9" fill="#333" stroke="#333" stroke-width="0.12" text-anchor="end" dy="1.3">70%</text>
<text transform="translate(48.26,267.44) rotate(390.6)" font-size="3.9" fill="#333" stroke="#333" stroke-width="0.12" text-anchor="end" dy="1.3">80%</text>
<text transform="translate(56.04,256.31) rotate(399.3)" font-size="3.9" fill="#333" stroke="#333" stroke-width="0.12" text-anchor="end" dy="1.3">90%</text>
<text transform="translate(65.41,246.49) rotate(408)" font-size="3.9" fill="#333" stroke="#333" stroke-width="0.12" text-anchor="end" dy="1.3">100%</text>
<text transform="translate(74.78,252.79) rotate(410)" font-size="3.7" fill="#333" stroke="#333" stroke-width="0.12" text-anchor="start" dy="1.2" x="-1.5">0</text>
<text transform="translate(80.89,248.15) rotate(415.6)" font-size="3.7" fill="#333" stroke="#333" stroke-width="0.12" text-anchor="start" dy="1.2" x="-1.5">4</text>
<text transform="translate(87.43,244.12) rotate(421.2)" font-size="3.7" fill="#333" stroke="#333" stroke-width="0.12" text-anchor="start" dy="1.2" x="-1.5">8</text>
<text transform="translate(94.34,240.76) rotate(426.8)" font-size="3.7" fill="#333" stroke="#333" stroke-width="0.12" text-anchor="start" dy="1.2" x="-1.5">12</text>
<text transform="translate(101.53,238.08) rotate(432.4)" font-size="3.7" fill="#333" stroke="#333" stroke-width="0.12" text-anchor="start" dy="1.2" x="-1.5">16</text>
<text transform="translate(108.96,236.12) rotate(438)" font-size="3.7" fill="#333" stroke="#333" stroke-width="0.12" text-anchor="start" dy="1.2" x="-1.5">20</text>
<text transform="translate(116.54,234.89) rotate(443.6)" font-size="3.7" fill="#333" stroke="#333" stroke-width="0.12" text-anchor="start" dy="1.2" x="-1.5">24</text>
<text transform="translate(67.77,244.44) rotate(410)" font-size="3.9" fill="#333" stroke="#333" stroke-width="0.12" text-anchor="end" dy="1.3">0%</text>
<text transform="translate(72.44,240.78) rotate(413.8)" font-size="3.9" fill="#333" stroke="#333" stroke-width="0.12" text-anchor="end" dy="1.3">10%</text>
<text transform="translate(77.34,237.43) rotate(417.6)" font-size="3.9" fill="#333" stroke="#333" stroke-width="0.12" text-anchor="end" dy="1.3">20%</text>
<text transform="translate(82.46,234.42) rotate(421.4)" font-size="3.9" fill="#333" stroke="#333" stroke-width="0.12" text-anchor="end" dy="1.3">30%</text>
<text transform="translate(87.76,231.75) rotate(425.2)" font-size="3.9" fill="#333" stroke="#333" stroke-width="0.12" text-anchor="end" dy="1.3">40%</text>
<text transform="translate(93.23,229.44) rotate(429)" font-size="3.9" fill="#333" stroke="#333" stroke-width="0.12" text-anchor="end" dy="1.3">50%</text>
<text transform="translate(98.83,227.5) rotate(432.8)" font-size="3.9" fill="#333" stroke="#333" stroke-width="0.12" text-anchor="end" dy="1.3">60%</text>
<text transform="translate(104.56,225.94) rotate(436.6)" font-size="3.9" fill="#333" stroke="#333" stroke-width="0.12" text-anchor="end" dy="1.3">70%</text>
<text transform="translate(110.37,224.75) rotate(440.4)" font-size="3.9" fill="#333" stroke="#333" stroke-width="0.12" text-anchor="end" dy="1.3">80%</text>
<text transform="translate(116.26,223.96) rotate(444.2)" font-size="3.9" fill="#333" stroke="#333" stroke-width="0.12" text-anchor="end" dy="1.3">90%</text>
<text transform="translate(122.18,223.55) rotate(448)" font-size="3.9" fill="#333" stroke="#333" stroke-width="0.12" text-anchor="end" dy="1.3">100%</text>
<path d="M296.77,290.83 A70.6,70.6 0 0 1 309.32,268.09 Q350.18,284.12 363.8,242.4 A70.6,70.6 0 0 1 389.79,247.36 Q353.54,291.05 296.77,290.83 Z" fill="rgb(80,106,250)" fill-opacity="0.85" stroke="#3050f5" stroke-opacity="0.8" stroke-width="0.6"/>
<path d="M361.09,383.55 A70.6,70.6 0 0 1 320.63,368.86 Q359.5,310.55 389.79,247.36 A70.6,70.6 0 0 1 423.21,274.86 Q377.98,321.1 361.09,383.55 Z" fill="rgb(80,106,250)" fill-opacity="0.85" stroke="#3050f5" stroke-opacity="0.8" stroke-width="0.6"/>
<path d="M310.92,266.22 A70.6,70.6 0 0 1 361.34,242.44 Q378.36,286.35 424.51,276.96 A70.6,70.6 0 0 1 431.73,332.22 Q367.56,306.11 310.92,266.22 Z" fill="rgb(214,2,2)" fill-opacity="0.83" stroke="#e00008" stroke-opacity="0.8" stroke-width="0.6"/>
<path d="M318.7,367.32 A70.6,70.6 0 0 1 296.77,290.83 Q364.03,312.26 431.73,332.22 A70.6,70.6 0 0 1 370.69,383.26 Q354.25,344.15 318.7,367.32 Z" fill="rgb(214,2,2)" fill-opacity="0.83" stroke="#e00008" stroke-opacity="0.8" stroke-width="0.6"/>
<path d="M364.66,383.59 A70.6,70.6 0 0 1 361.09,383.55 Q365.01,353.84 370.69,383.26 A70.6,70.6 0 0 1 367.13,383.52 Q365.01,353.92 364.66,383.59 Z" fill="rgb(214,2,2)" fill-opacity="0.83" stroke="#e00008" stroke-opacity="0.8" stroke-width="0.6"/>
<path d="M363.8,237.6 A75.4,75.4 0 0 1 427.25,272.27 L423.72,274.53 A71.2,71.2 0 0 0 363.8,241.8 Z" fill="#4b67f0"/>
<path d="M363.8,242 A71,71 0 0 1 423.55,274.64" fill="none" stroke="#707878" stroke-width="0.9"/>
<path d="M428.63,274.51 A75.4,75.4 0 0 1 367.35,388.32 L367.15,384.12 A71.2,71.2 0 0 0 425.02,276.65 Z" fill="#e8141a"/>
<path d="M424.85,276.75 A71,71 0 0 1 367.14,383.92" fill="none" stroke="#707878" stroke-width="0.9"/>
<path d="M364.72,388.39 A75.4,75.4 0 0 1 317.69,372.66 L320.26,369.34 A71.2,71.2 0 0 0 364.67,384.19 Z" fill="#b5574f"/>
<path d="M364.67,383.99 A71,71 0 0 1 320.38,369.18" fill="none" stroke="#707878" stroke-width="0.9"/>
<path d="M315.64,371.01 A75.4,75.4 0 0 1 305.62,265.04 L308.86,267.71 A71.2,71.2 0 0 0 318.32,367.78 Z" fill="#8a8a8a"/>
<path d="M318.45,367.63 A71,71 0 0 1 309.01,267.84" fill="none" stroke="#707878" stroke-width="0.9"/>
<path d="M307.33,263.04 A75.4,75.4 0 0 1 361.17,237.65 L361.32,241.84 A71.2,71.2 0 0 0 310.47,265.82 Z" fill="#b3d7e5"/>
<path d="M310.62,265.95 A71,71 0 0 1 361.32,242.04" fill="none" stroke="#707878" stroke-width="0.9"/>
<path d="M363.8,229.9 A83.1,83.1 0 0 1 412.29,245.52" fill="none" stroke="#a84545" stroke-width="1.65"/>
<path d="M363.8,227.2 A85.8,85.8 0 0 1 413.87,243.32" fill="none" stroke="#a84545" stroke-width="1.65"/>
<path d="M412.29,245.52 A83.1,83.1 0 0 1 433.73,268.11" fill="none" stroke="#7a7a7a" stroke-width="1.65"/>
<path d="M413.87,243.32 A85.8,85.8 0 0 1 436,266.65" fill="none" stroke="#7a7a7a" stroke-width="1.65"/>
<path d="M435.25,270.57 A83.1,83.1 0 0 1 429.37,364.05" fill="none" stroke="#7a7a7a" stroke-width="1.65"/>
<path d="M437.58,269.2 A85.8,85.8 0 0 1 431.5,365.71" fill="none" stroke="#7a7a7a" stroke-width="1.65"/>
<path d="M429.37,364.05 A83.1,83.1 0 0 1 371.91,395.7" fill="none" stroke="#a9d0e0" stroke-width="1.65"/>
<path d="M431.5,365.71 A85.8,85.8 0 0 1 372.17,398.39" fill="none" stroke="#a9d0e0" stroke-width="1.65"/>
<path d="M371.91,395.7 A83.1,83.1 0 0 1 367.71,396.01" fill="none" stroke="#a84545" stroke-width="1.65"/>
<path d="M372.17,398.39 A85.8,85.8 0 0 1 367.84,398.7" fill="none" stroke="#a84545" stroke-width="1.65"/>
<path d="M364.82,396.09 A83.1,83.1 0 0 1 316.14,381.07" fill="none" stroke="#4b67f0" stroke-width="1.65"/>
<path d="M364.85,398.79 A85.8,85.8 0 0 1 314.59,383.28" fill="none" stroke="#4b67f0" stroke-width="1.65"/>
<path d="M316.14,381.07 A83.1,83.1 0 0 1 312.98,378.75" fill="none" stroke="#d21c1c" stroke-width="1.65"/>
<path d="M314.59,383.28 A85.8,85.8 0 0 1 311.33,380.89" fill="none" stroke="#d21c1c" stroke-width="1.65"/>
<path d="M310.72,376.94 A83.1,83.1 0 0 1 284.9,286.91" fill="none" stroke="#d21c1c" stroke-width="1.65"/>
<path d="M308.99,379.01 A85.8,85.8 0 0 1 282.34,286.06" fill="none" stroke="#d21c1c" stroke-width="1.65"/>
<path d="M284.9,286.91 A83.1,83.1 0 0 1 299.68,260.14" fill="none" stroke="#4b67f0" stroke-width="1.65"/>
<path d="M282.34,286.06 A85.8,85.8 0 0 1 297.59,258.42" fill="none" stroke="#4b67f0" stroke-width="1.65"/>
<path d="M301.56,257.94 A83.1,83.1 0 0 1 360.9,229.95" fill="none" stroke="#d21c1c" stroke-width="1.65"/>
<path d="M299.54,256.15 A85.8,85.8 0 0 1 360.81,227.25" fill="none" stroke="#d21c1c" stroke-width="1.65"/>
<path id="lp363_FL" d="M326.65,252.02 A71.4,71.4 0 0 1 435.18,311.32" fill="none"/>
<text font-size="4.4" font-weight="bold" fill="#1a1a1a"><textPath href="#lp363_FL" startOffset="50%" text-anchor="middle">F-Low risk</textPath></text>
<path id="lp363_FH" d="M424.55,275.48 A71.4,71.4 0 0 1 365.92,384.37" fill="none"/>
<text font-size="4.4" font-weight="bold" fill="#1a1a1a"><textPath href="#lp363_FH" startOffset="50%" text-anchor="middle">F-High risk</textPath></text>
<path id="lp363_VI" d="M411.11,366.48 A71.4,71.4 0 0 1 293.83,327.23" fill="none"/>
<text font-size="4.4" font-weight="bold" fill="#1a1a1a"><textPath href="#lp363_VI" startOffset="50%" text-anchor="middle">V-Intermediate</textPath></text>
<path id="lp363_VF" d="M334.08,377.92 A71.4,71.4 0 0 1 322.44,254.8" fill="none"/>
<text font-size="4.4" font-weight="bold" fill="#1a1a1a"><textPath href="#lp363_VF" startOffset="50%" text-anchor="middle">V-Favourable</textPath></text>
<path id="lp363_VA" d="M292.65,307.09 A71.4,71.4 0 0 1 404.5,254.33" fill="none"/>
<text font-size="4.4" font-weight="bold" fill="#1a1a1a"><textPath href="#lp363_VA" startOffset="50%" text-anchor="middle">V-Adverse</textPath></text>
<text transform="translate(363.8,234.4) rotate(-90)" font-size="3.7" fill="#333" stroke="#333" stroke-width="0.12" text-anchor="start" dy="1.2" x="-1.5">0</text>
<text transform="translate(371.47,234.78) rotate(-84.4)" font-size="3.7" fill="#333" stroke="#333" stroke-width="0.12" text-anchor="start" dy="1.2" x="-1.5">4</text>
<text transform="translate(379.07,235.9) rotate(-78.8)" font-size="3.7" fill="#333" stroke="#333" stroke-width="0.12" text-anchor="start" dy="1.2" x="-1.5">8</text>
<text transform="translate(386.52,237.75) rotate(-73.2)" font-size="3.7" fill="#333" stroke="#333" stroke-width="0.12" text-anchor="start" dy="1.2" x="-1.5">12</text>
<text transform="translate(393.75,240.33) rotate(-67.6)" font-size="3.7" fill="#333" stroke="#333" stroke-width="0.12" text-anchor="start" dy="1.2" x="-1.5">16</text>
<text transform="translate(400.7,243.6) rotate(-62)" font-size="3.7" fill="#333" stroke="#333" stroke-width="0.12" text-anchor="start" dy="1.2" x="-1.5">20</text>
<text transform="translate(407.3,247.53) rotate(-56.4)" font-size="3.7" fill="#333" stroke="#333" stroke-width="0.12" text-anchor="start" dy="1.2" x="-1.5">24</text>
<text transform="translate(413.48,252.09) rotate(-50.8)" font-size="3.7" fill="#333" stroke="#333" stroke-width="0.12" text-anchor="start" dy="1.2" x="-1.5">28</text>
<text transform="translate(419.18,257.23) rotate(-45.2)" font-size="3.7" fill="#333" stroke="#333" stroke-width="0.12" text-anchor="start" dy="1.2" x="-1.5">32</text>
<text transform="translate(424.36,262.9) rotate(-39.6)" font-size="3.7" fill="#333" stroke="#333" stroke-width="0.12" text-anchor="start" dy="1.2" x="-1.5">36</text>
<text transform="translate(428.96,269.05) rotate(-34)" font-size="3.7" fill="#333" stroke="#333" stroke-width="0.12" text-anchor="start" dy="1.2" x="-1.5">40</text>
<text transform="translate(363.8,223.5) rotate(-90)" font-size="3.9" fill="#333" stroke="#333" stroke-width="0.12" text-anchor="start" dy="1.3">0%</text>
<text transform="translate(372.74,223.95) rotate(-84.27)" font-size="3.9" fill="#333" stroke="#333" stroke-width="0.12" text-anchor="start" dy="1.3">10%</text>
<text transform="translate(381.58,225.28) rotate(-78.54)" font-size="3.9" fill="#333" stroke="#333" stroke-width="0.12" text-anchor="start" dy="1.3">20%</text>
<text transform="translate(390.25,227.5) rotate(-72.81)" font-size="3.9" fill="#333" stroke="#333" stroke-width="0.12" text-anchor="start" dy="1.3">30%</text>
<text transform="translate(398.66,230.57) rotate(-67.08)" font-size="3.9" fill="#333" stroke="#333" stroke-width="0.12" text-anchor="start" dy="1.3">40%</text>
<text transform="translate(406.71,234.46) rotate(-61.35)" font-size="3.9" fill="#333" stroke="#333" stroke-width="0.12" text-anchor="start" dy="1.3">50%</text>
<text transform="translate(414.34,239.13) rotate(-55.62)" font-size="3.9" fill="#333" stroke="#333" stroke-width="0.12" text-anchor="start" dy="1.3">60%</text>
<text transform="translate(421.46,244.55) rotate(-49.89)" font-size="3.9" fill="#333" stroke="#333" stroke-width="0.12" text-anchor="start" dy="1.3">70%</text>
<text transform="translate(428.01,250.65) rotate(-44.16)" font-size="3.9" fill="#333" stroke="#333" stroke-width="0.12" text-anchor="start" dy="1.3">80%</text>
<text transform="translate(433.91,257.37) rotate(-38.43)" font-size="3.9" fill="#333" stroke="#333" stroke-width="0.12" text-anchor="start" dy="1.3">90%</text>
<text transform="translate(439.12,264.65) rotate(-32.7)" font-size="3.9" fill="#333" stroke="#333" stroke-width="0.12" text-anchor="start" dy="1.3">100%</text>
<text transform="translate(431.38,272.87) rotate(-30.7)" font-size="3.7" fill="#333" stroke="#333" stroke-width="0.12" text-anchor="start" dy="1.2" x="-1.5">0</text>
<text transform="translate(434.98,279.66) rotate(-25.1)" font-size="3.7" fill="#333" stroke="#333" stroke-width="0.12" text-anchor="start" dy="1.2" x="-1.5">4</text>
<text transform="translate(437.89,286.76) rotate(-19.5)" font-size="3.7" fill="#333" stroke="#333" stroke-width="0.12" text-anchor="start" dy="1.2" x="-1.5">8</text>
<text transform="translate(440.1,294.12) rotate(-13.9)" font-size="3.7" fill="#333" stroke="#333" stroke-width="0.12" text-anchor="start" dy="1.2" x="-1.5">12</text>
<text transform="translate(441.58,301.65) rotate(-8.3)" font-size="3.7" fill="#333" stroke="#333" stroke-width="0.12" text-anchor="start" dy="1.2" x="-1.5">16</text>
<text transform="translate(442.31,309.3) rotate(-2.7)" font-size="3.7" fill="#333" stroke="#333" stroke-width="0.12" text-anchor="start" dy="1.2" x="-1.5">20</text>
<text transform="translate(442.3,316.98) rotate(2.9)" font-size="3.7" fill="#333" stroke="#333" stroke-width="0.12" text-anchor="start" dy="1.2" x="-1.5">24</text>
<text transform="translate(441.54,324.62) rotate(8.5)" font-size="3.7" fill="#333" stroke="#333" stroke-width="0.12" text-anchor="start" dy="1.2" x="-1.5">28</text>
<text transform="translate(440.03,332.15) rotate(14.1)" font-size="3.7" fill="#333" stroke="#333" stroke-width="0.12" text-anchor="start" dy="1.2" x="-1.5">32</text>
<text transform="translate(437.8,339.5) rotate(19.7)" font-size="3.7" fill="#333" stroke="#333" stroke-width="0.12" text-anchor="start" dy="1.2" x="-1.5">36</text>
<text transform="translate(434.86,346.59) rotate(25.3)" font-size="3.7" fill="#333" stroke="#333" stroke-width="0.12" text-anchor="start" dy="1.2" x="-1.5">40</text>
<text transform="translate(431.24,353.36) rotate(30.9)" font-size="3.7" fill="#333" stroke="#333" stroke-width="0.12" text-anchor="start" dy="1.2" x="-1.5">44</text>
<text transform="translate(426.98,359.75) rotate(36.5)" font-size="3.7" fill="#333" stroke="#333" stroke-width="0.12" text-anchor="start" dy="1.2" x="-1.5">48</text>
<text transform="translate(422.12,365.7) rotate(42.1)" font-size="3.7" fill="#333" stroke="#333" stroke-width="0.12" text-anchor="start" dy="1.2" x="-1.5">52</text>
<text transform="translate(416.7,371.14) rotate(47.7)" font-size="3.7" fill="#333" stroke="#333" stroke-width="0.12" text-anchor="start" dy="1.2" x="-1.5">56</text>
<text transform="translate(410.77,376.02) rotate(53.3)" font-size="3.7" fill="#333" stroke="#333" stroke-width="0.12" text-anchor="start" dy="1.2" x="-1.5">60</text>
<text transform="translate(404.4,380.3) rotate(58.9)" font-size="3.7" fill="#333" stroke="#333" stroke-width="0.12" text-anchor="start" dy="1.2" x="-1.5">64</text>
<text transform="translate(397.64,383.94) rotate(64.5)" font-size="3.7" fill="#333" stroke="#333" stroke-width="0.12" text-anchor="start" dy="1.2" x="-1.5">68</text>
<text transform="translate(390.55,386.91) rotate(70.1)" font-size="3.7" fill="#333" stroke="#333" stroke-width="0.12" text-anchor="start" dy="1.2" x="-1.5">72</text>
<text transform="translate(383.21,389.16) rotate(75.7)" font-size="3.7" fill="#333" stroke="#333" stroke-width="0.12" text-anchor="start" dy="1.2" x="-1.5">76</text>
<text transform="translate(375.69,390.7) rotate(81.3)" font-size="3.7" fill="#333" stroke="#333" stroke-width="0.12" text-anchor="start" dy="1.2" x="-1.5">80</text>
<text transform="translate(368.05,391.48) rotate(86.9)" font-size="3.7" fill="#333" stroke="#333" stroke-width="0.12" text-anchor="start" dy="1.2" x="-1.5">84</text>
<text transform="translate(440.76,267.31) rotate(-30.7)" font-size="3.9" fill="#333" stroke="#333" stroke-width="0.12" text-anchor="start" dy="1.3">0%</text>
<text transform="translate(448.47,284.01) rotate(-18.9)" font-size="3.9" fill="#333" stroke="#333" stroke-width="0.12" text-anchor="start" dy="1.3">10%</text>
<text transform="translate(452.61,301.94) rotate(-7.1)" font-size="3.9" fill="#333" stroke="#333" stroke-width="0.12" text-anchor="start" dy="1.3">20%</text>
<text transform="translate(453,320.33) rotate(4.7)" font-size="3.9" fill="#333" stroke="#333" stroke-width="0.12" text-anchor="start" dy="1.3">30%</text>
<text transform="translate(449.61,338.42) rotate(16.5)" font-size="3.9" fill="#333" stroke="#333" stroke-width="0.12" text-anchor="start" dy="1.3">40%</text>
<text transform="translate(442.6,355.43) rotate(28.3)" font-size="3.9" fill="#333" stroke="#333" stroke-width="0.12" text-anchor="start" dy="1.3">50%</text>
<text transform="translate(432.26,370.65) rotate(40.1)" font-size="3.9" fill="#333" stroke="#333" stroke-width="0.12" text-anchor="start" dy="1.3">60%</text>
<text transform="translate(419.02,383.43) rotate(51.9)" font-size="3.9" fill="#333" stroke="#333" stroke-width="0.12" text-anchor="start" dy="1.3">70%</text>
<text transform="translate(403.45,393.24) rotate(63.7)" font-size="3.9" fill="#333" stroke="#333" stroke-width="0.12" text-anchor="start" dy="1.3">80%</text>
<text transform="translate(386.21,399.65) rotate(75.5)" font-size="3.9" fill="#333" stroke="#333" stroke-width="0.12" text-anchor="start" dy="1.3">90%</text>
<text transform="translate(368.02,402.4) rotate(87.3)" font-size="3.9" fill="#333" stroke="#333" stroke-width="0.12" text-anchor="start" dy="1.3">100%</text>
<text transform="translate(364.76,391.59) rotate(89.3)" font-size="3.7" fill="#333" stroke="#333" stroke-width="0.12" text-anchor="start" dy="1.2" x="-1.5">0</text>
<text transform="translate(357.09,391.31) rotate(274.9)" font-size="3.7" fill="#333" stroke="#333" stroke-width="0.12" text-anchor="start" dy="1.2" x="-1.5">4</text>
<text transform="translate(349.48,390.28) rotate(280.5)" font-size="3.7" fill="#333" stroke="#333" stroke-width="0.12" text-anchor="start" dy="1.2" x="-1.5">8</text>
<text transform="translate(342,388.52) rotate(286.1)" font-size="3.7" fill="#333" stroke="#333" stroke-width="0.12" text-anchor="start" dy="1.2" x="-1.5">12</text>
<text transform="translate(334.74,386.03) rotate(291.7)" font-size="3.7" fill="#333" stroke="#333" stroke-width="0.12" text-anchor="start" dy="1.2" x="-1.5">16</text>
<text transform="translate(327.75,382.85) rotate(297.3)" font-size="3.7" fill="#333" stroke="#333" stroke-width="0.12" text-anchor="start" dy="1.2" x="-1.5">20</text>
<text transform="translate(321.11,378.99) rotate(302.9)" font-size="3.7" fill="#333" stroke="#333" stroke-width="0.12" text-anchor="start" dy="1.2" x="-1.5">24</text>
<text transform="translate(364.89,402.49) rotate(89.3)" font-size="3.9" fill="#333" stroke="#333" stroke-width="0.12" text-anchor="start" dy="1.3">0%</text>
<text transform="translate(358.9,402.37) rotate(273.14)" font-size="3.9" fill="#333" stroke="#333" stroke-width="0.12" text-anchor="end" dy="1.3">10%</text>
<text transform="translate(352.92,401.84) rotate(276.98)" font-size="3.9" fill="#333" stroke="#333" stroke-width="0.12" text-anchor="end" dy="1.3">20%</text>
<text transform="translate(347,400.91) rotate(280.82)" font-size="3.9" fill="#333" stroke="#333" stroke-width="0.12" text-anchor="end" dy="1.3">30%</text>
<text transform="translate(341.15,399.59) rotate(284.66)" font-size="3.9" fill="#333" stroke="#333" stroke-width="0.12" text-anchor="end" dy="1.3">40%</text>
<text transform="translate(335.4,397.87) rotate(288.5)" font-size="3.9" fill="#333" stroke="#333" stroke-width="0.12" text-anchor="end" dy="1.3">50%</text>
<text transform="translate(329.78,395.78) rotate(292.34)" font-size="3.9" fill="#333" stroke="#333" stroke-width="0.12" text-anchor="end" dy="1.3">60%</text>
<text transform="translate(324.31,393.32) rotate(296.18)" font-size="3.9" fill="#333" stroke="#333" stroke-width="0.12" text-anchor="end" dy="1.3">70%</text>
<text transform="translate(319.02,390.49) rotate(300.02)" font-size="3.9" fill="#333" stroke="#333" stroke-width="0.12" text-anchor="end" dy="1.3">80%</text>
<text transform="translate(313.93,387.32) rotate(303.86)" font-size="3.9" fill="#333" stroke="#333" stroke-width="0.12" text-anchor="end" dy="1.3">90%</text>
<text transform="translate(309.07,383.81) rotate(307.7)" font-size="3.9" fill="#333" stroke="#333" stroke-width="0.12" text-anchor="end" dy="1.3">100%</text>
<text transform="translate(313.59,373.47) rotate(309.7)" font-size="3.7" fill="#333" stroke="#333" stroke-width="0.12" text-anchor="start" dy="1.2" x="-1.5">0</text>
<text transform="translate(307.93,368.29) rotate(315.3)" font-size="3.7" fill="#333" stroke="#333" stroke-width="0.12" text-anchor="start" dy="1.2" x="-1.5">4</text>
<text transform="translate(302.8,362.57) rotate(320.9)" font-size="3.7" fill="#333" stroke="#333" stroke-width="0.12" text-anchor="start" dy="1.2" x="-1.5">8</text>
<text transform="translate(298.26,356.38) rotate(326.5)" font-size="3.7" fill="#333" stroke="#333" stroke-width="0.12" text-anchor="start" dy="1.2" x="-1.5">12</text>
<text transform="translate(294.34,349.78) rotate(332.1)" font-size="3.7" fill="#333" stroke="#333" stroke-width="0.12" text-anchor="start" dy="1.2" x="-1.5">16</text>
<text transform="translate(291.08,342.83) rotate(337.7)" font-size="3.7" fill="#333" stroke="#333" stroke-width="0.12" text-anchor="start" dy="1.2" x="-1.5">20</text>
<text transform="translate(288.52,335.59) rotate(343.3)" font-size="3.7" fill="#333" stroke="#333" stroke-width="0.12" text-anchor="start" dy="1.2" x="-1.5">24</text>
<text transform="translate(286.67,328.13) rotate(348.9)" font-size="3.7" fill="#333" stroke="#333" stroke-width="0.12" text-anchor="start" dy="1.2" x="-1.5">28</text>
<text transform="translate(285.56,320.53) rotate(354.5)" font-size="3.7" fill="#333" stroke="#333" stroke-width="0.12" text-anchor="start" dy="1.2" x="-1.5">32</text>
<text transform="translate(285.2,312.86) rotate(360.1)" font-size="3.7" fill="#333" stroke="#333" stroke-width="0.12" text-anchor="start" dy="1.2" x="-1.5">36</text>
<text transform="translate(285.59,305.19) rotate(365.7)" font-size="3.7" fill="#333" stroke="#333" stroke-width="0.12" text-anchor="start" dy="1.2" x="-1.5">40</text>
<text transform="translate(286.72,297.6) rotate(371.3)" font-size="3.7" fill="#333" stroke="#333" stroke-width="0.12" text-anchor="start" dy="1.2" x="-1.5">44</text>
<text transform="translate(288.59,290.15) rotate(376.9)" font-size="3.7" fill="#333" stroke="#333" stroke-width="0.12" text-anchor="start" dy="1.2" x="-1.5">48</text>
<text transform="translate(291.18,282.92) rotate(382.5)" font-size="3.7" fill="#333" stroke="#333" stroke-width="0.12" text-anchor="start" dy="1.2" x="-1.5">52</text>
<text transform="translate(294.46,275.98) rotate(388.1)" font-size="3.7" fill="#333" stroke="#333" stroke-width="0.12" text-anchor="start" dy="1.2" x="-1.5">56</text>
<text transform="translate(298.41,269.39) rotate(393.7)" font-size="3.7" fill="#333" stroke="#333" stroke-width="0.12" text-anchor="start" dy="1.2" x="-1.5">60</text>
<text transform="translate(302.98,263.22) rotate(399.3)" font-size="3.7" fill="#333" stroke="#333" stroke-width="0.12" text-anchor="start" dy="1.2" x="-1.5">64</text>
<text transform="translate(306.63,381.86) rotate(309.7)" font-size="3.9" fill="#333" stroke="#333" stroke-width="0.12" text-anchor="end" dy="1.3">0%</text>
<text transform="translate(296.58,372.09) rotate(318.68)" font-size="3.9" fill="#333" stroke="#333" stroke-width="0.12" text-anchor="end" dy="1.3">10%</text>
<text transform="translate(288.18,360.88) rotate(327.66)" font-size="3.9" fill="#333" stroke="#333" stroke-width="0.12" text-anchor="end" dy="1.3">20%</text>
<text transform="translate(281.64,348.49) rotate(336.64)" font-size="3.9" fill="#333" stroke="#333" stroke-width="0.12" text-anchor="end" dy="1.3">30%</text>
<text transform="translate(277.1,335.23) rotate(345.62)" font-size="3.9" fill="#333" stroke="#333" stroke-width="0.12" text-anchor="end" dy="1.3">40%</text>
<text transform="translate(274.7,321.42) rotate(354.6)" font-size="3.9" fill="#333" stroke="#333" stroke-width="0.12" text-anchor="end" dy="1.3">50%</text>
<text transform="translate(274.47,307.41) rotate(363.58)" font-size="3.9" fill="#333" stroke="#333" stroke-width="0.12" text-anchor="end" dy="1.3">60%</text>
<text transform="translate(276.44,293.54) rotate(372.56)" font-size="3.9" fill="#333" stroke="#333" stroke-width="0.12" text-anchor="end" dy="1.3">70%</text>
<text transform="translate(280.55,280.14) rotate(381.54)" font-size="3.9" fill="#333" stroke="#333" stroke-width="0.12" text-anchor="end" dy="1.3">80%</text>
<text transform="translate(286.7,267.55) rotate(390.52)" font-size="3.9" fill="#333" stroke="#333" stroke-width="0.12" text-anchor="end" dy="1.3">90%</text>
<text transform="translate(294.74,256.07) rotate(399.5)" font-size="3.9" fill="#333" stroke="#333" stroke-width="0.12" text-anchor="end" dy="1.3">100%</text>
<text transform="translate(304.93,260.92) rotate(401.5)" font-size="3.7" fill="#333" stroke="#333" stroke-width="0.12" text-anchor="start" dy="1.2" x="-1.5">0</text>
<text transform="translate(310.3,255.42) rotate(407.1)" font-size="3.7" fill="#333" stroke="#333" stroke-width="0.12" text-anchor="start" dy="1.2" x="-1.5">4</text>
<text transform="translate(316.17,250.48) rotate(412.7)" font-size="3.7" fill="#333" stroke="#333" stroke-width="0.12" text-anchor="start" dy="1.2" x="-1.5">8</text>
<text transform="translate(322.5,246.13) rotate(418.3)" font-size="3.7" fill="#333" stroke="#333" stroke-width="0.12" text-anchor="start" dy="1.2" x="-1.5">12</text>
<text transform="translate(329.22,242.42) rotate(423.9)" font-size="3.7" fill="#333" stroke="#333" stroke-width="0.12" text-anchor="start" dy="1.2" x="-1.5">16</text>
<text transform="translate(336.27,239.38) rotate(429.5)" font-size="3.7" fill="#333" stroke="#333" stroke-width="0.12" text-anchor="start" dy="1.2" x="-1.5">20</text>
<text transform="translate(343.59,237.04) rotate(435.1)" font-size="3.7" fill="#333" stroke="#333" stroke-width="0.12" text-anchor="start" dy="1.2" x="-1.5">24</text>
<text transform="translate(351.1,235.43) rotate(440.7)" font-size="3.7" fill="#333" stroke="#333" stroke-width="0.12" text-anchor="start" dy="1.2" x="-1.5">28</text>
<text transform="translate(358.73,234.56) rotate(446.3)" font-size="3.7" fill="#333" stroke="#333" stroke-width="0.12" text-anchor="start" dy="1.2" x="-1.5">32</text>
<text transform="translate(296.77,253.7) rotate(401.5)" font-size="3.9" fill="#333" stroke="#333" stroke-width="0.12" text-anchor="end" dy="1.3">0%</text>
<text transform="translate(301.8,248.46) rotate(406.15)" font-size="3.9" fill="#333" stroke="#333" stroke-width="0.12" text-anchor="end" dy="1.3">10%</text>
<text transform="translate(307.23,243.64) rotate(410.8)" font-size="3.9" fill="#333" stroke="#333" stroke-width="0.12" text-anchor="end" dy="1.3">20%</text>
<text transform="translate(313.04,239.28) rotate(415.45)" font-size="3.9" fill="#333" stroke="#333" stroke-width="0.12" text-anchor="end" dy="1.3">30%</text>
<text transform="translate(319.19,235.41) rotate(420.1)" font-size="3.9" fill="#333" stroke="#333" stroke-width="0.12" text-anchor="end" dy="1.3">40%</text>
<text transform="translate(325.62,232.05) rotate(424.75)" font-size="3.9" fill="#333" stroke="#333" stroke-width="0.12" text-anchor="end" dy="1.3">50%</text>
<text transform="translate(332.31,229.22) rotate(429.4)" font-size="3.9" fill="#333" stroke="#333" stroke-width="0.12" text-anchor="end" dy="1.3">60%</text>
<text transform="translate(339.21,226.95) rotate(434.05)" font-size="3.9" fill="#333" stroke="#333" stroke-width="0.12" text-anchor="end" dy="1.3">70%</text>
<text transform="translate(346.26,225.23) rotate(438.7)" font-size="3.9" fill="#333" stroke="#333" stroke-width="0.12" text-anchor="end" dy="1.3">80%</text>
<text transform="translate(353.44,224.1) rotate(443.35)" font-size="3.9" fill="#333" stroke="#333" stroke-width="0.12" text-anchor="end" dy="1.3">90%</text>
<text transform="translate(360.68,223.55) rotate(448)" font-size="3.9" fill="#333" stroke="#333" stroke-width="0.12" text-anchor="end" dy="1.3">100%</text>
<text x="6.4" y="209.6" font-size="12" font-weight="bold" fill="#000">D</text>
<text x="245" y="209.8" font-size="12" font-weight="bold" fill="#000">E</text>
<text transform="translate(24.2,300) rotate(-90)" font-size="6.6" fill="#222" stroke="#222" stroke-width="0.15" text-anchor="middle" textLength="14" lengthAdjust="spacingAndGlyphs">AGR</text>
<text transform="translate(262.1,299.5) rotate(-90)" font-size="6.6" fill="#222" stroke="#222" stroke-width="0.15" text-anchor="middle" textLength="14" lengthAdjust="spacingAndGlyphs">AGR</text>
<text transform="translate(224.6,300) rotate(90)" font-size="6.6" fill="#222" stroke="#222" stroke-width="0.15" text-anchor="middle" textLength="21" lengthAdjust="spacingAndGlyphs">SAMLS</text>
<text transform="translate(462.4,299.8) rotate(90)" font-size="6.6" fill="#222" stroke="#222" stroke-width="0.15" text-anchor="middle" textLength="21" lengthAdjust="spacingAndGlyphs">SAMLS</text>
<text x="431" y="223.7" font-size="5.4" fill="#222" stroke="#222" stroke-width="0.15" textLength="24.2" lengthAdjust="spacingAndGlyphs">Risk Score</text>
<line x1="431" y1="228.8" x2="437.1" y2="228.8" stroke="#c8415f" stroke-width="1.3"/>
<line x1="431" y1="235.4" x2="437.1" y2="235.4" stroke="#4d67a6" stroke-width="1.3"/>
<text x="440.2" y="230.6" font-size="5.4" fill="#222" stroke="#222" stroke-width="0.15" textLength="10.8" lengthAdjust="spacingAndGlyphs">High</text>
<text x="440.2" y="237.2" font-size="5.4" fill="#222" stroke="#222" stroke-width="0.15" textLength="9" lengthAdjust="spacingAndGlyphs">Low</text>
</svg>
<div class="frame"></div>
</body></html>
